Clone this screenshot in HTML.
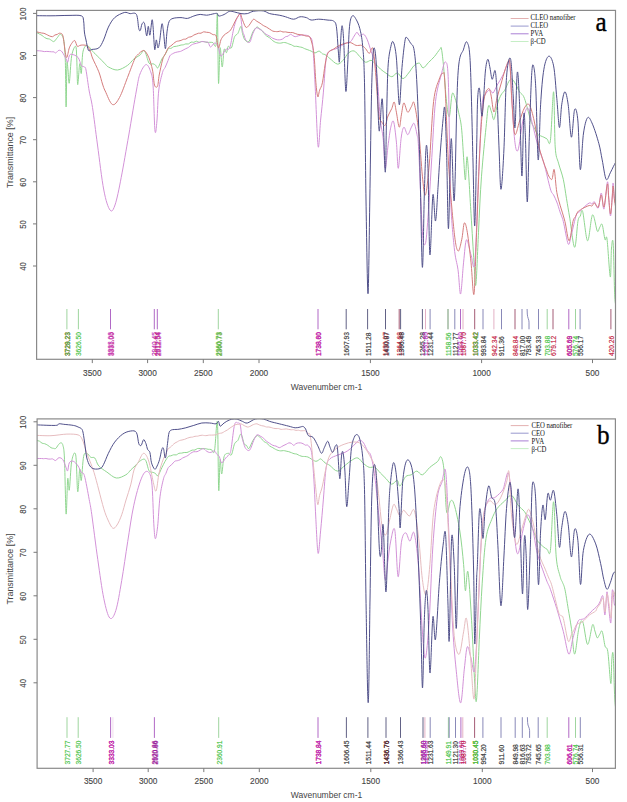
<!DOCTYPE html><html><head><meta charset="utf-8"><style>
html,body{margin:0;padding:0;background:#fff;}
body{width:627px;height:802px;overflow:hidden;position:relative;}
svg{position:absolute;left:0;top:0;}
.t{font-family:"Liberation Sans",sans-serif;}
.s{font-family:"Liberation Serif",serif;}
</style></head><body>
<svg width="627" height="802" viewBox="0 0 627 802">
<clipPath id="ca"><rect x="36.6" y="10.4" width="578.9" height="348.90000000000003"/></clipPath>
<g clip-path="url(#ca)" fill="none" stroke-linejoin="round" stroke-linecap="round">
<path d="M37.0,32.7C37.4,32.9 38.7,33.6 39.5,34.1C40.4,34.6 41.2,34.9 42.1,35.5C42.9,36.0 43.8,37.0 44.6,37.5C45.4,38.0 46.2,38.4 47.0,38.7C47.8,38.9 48.6,38.7 49.4,39.0C50.1,39.3 50.9,40.1 51.7,40.5C52.5,41.0 53.2,42.0 54.1,41.5C55.0,41.0 56.2,38.9 57.3,37.7C58.4,36.5 59.4,33.9 60.5,34.3C61.6,34.7 62.9,35.6 63.7,39.9C64.5,44.2 64.9,48.8 65.3,60.0C65.7,71.2 65.8,106.4 66.1,107.0C66.4,107.6 66.6,70.0 66.9,63.8C67.2,57.6 67.6,66.8 68.0,70.0C68.4,73.2 68.7,85.4 69.3,83.0C69.9,80.6 70.6,61.9 71.7,55.8C72.8,49.7 74.9,45.6 75.7,46.3C76.5,47.0 76.5,53.6 76.8,60.0C77.1,66.4 77.2,84.0 77.7,84.6C78.2,85.2 79.1,65.7 79.7,63.8C80.3,61.9 80.8,75.2 81.3,73.4C81.8,71.6 82.0,57.4 82.8,52.7C83.6,48.1 84.9,46.5 86.0,45.5C87.1,44.5 88.1,46.0 89.2,47.0C90.3,48.0 90.9,49.5 92.5,51.2C94.1,53.0 96.7,55.3 98.8,57.4C100.9,59.5 103.4,62.1 105.0,63.8C106.6,65.3 106.3,66.0 108.4,67.0C110.5,68.0 114.3,70.3 117.5,70.0C120.7,69.7 124.8,67.2 127.5,65.4C130.2,63.6 131.8,60.7 133.9,59.0C136.0,57.3 138.2,56.4 140.0,55.0C141.8,53.6 142.9,49.4 144.4,50.7C145.9,52.0 147.6,60.8 149.0,63.0C150.4,65.2 152.0,63.4 153.1,63.8C154.2,64.2 154.7,64.5 155.5,65.1C156.3,65.8 156.8,68.8 157.9,67.8C159.0,66.8 160.7,61.2 161.9,59.0C163.1,56.8 164.0,56.2 165.1,54.5C166.2,52.8 167.3,49.7 168.3,48.7C169.3,47.7 170.1,48.7 171.0,48.4C171.9,48.0 172.7,47.0 173.6,46.7C174.5,46.3 175.5,46.5 176.3,46.3C177.1,46.1 177.9,45.9 178.7,45.7C179.5,45.5 180.3,45.2 181.1,45.0C181.8,44.9 182.6,45.0 183.4,44.8C184.2,44.6 185.0,44.0 185.8,43.9C186.6,43.8 187.6,44.2 188.5,43.9C189.4,43.6 190.2,42.4 191.1,42.1C192.0,41.8 192.9,42.5 193.8,42.3C194.7,42.1 195.6,41.2 196.5,41.2C197.4,41.2 198.2,42.3 199.1,42.4C200.0,42.4 200.9,41.6 201.8,41.5C202.7,41.4 203.6,41.5 204.4,41.6C205.3,41.8 206.2,42.4 207.1,42.5C207.9,42.6 208.7,42.3 209.7,42.3C210.7,42.3 211.8,42.2 212.9,42.6C214.0,43.0 215.3,49.4 216.1,44.7C216.8,40.0 217.0,8.0 217.4,14.4C217.8,20.8 218.1,77.4 218.5,83.0C218.9,88.6 219.5,50.6 220.1,47.9C220.7,45.2 221.5,66.7 222.2,67.0C222.9,67.3 223.4,51.9 224.1,49.5C224.8,47.1 225.8,53.2 226.5,52.7C227.2,52.2 227.4,47.1 228.2,46.3C229.0,45.5 230.3,49.5 231.4,47.9C232.5,46.3 233.5,39.1 234.6,36.7C235.7,34.3 236.7,35.2 237.8,33.5C238.9,31.8 240.2,26.3 241.0,26.3C241.8,26.3 241.8,31.2 242.5,33.5C243.2,35.8 243.8,38.6 244.9,39.9C246.0,41.2 247.6,42.8 248.9,41.5C250.2,40.2 251.6,34.3 252.9,31.9C254.2,29.5 255.8,27.6 256.9,27.1C258.0,26.6 258.5,28.1 259.3,28.6C260.1,29.1 260.9,29.5 261.7,30.3C262.5,31.1 263.3,32.6 264.1,33.5C264.9,34.4 265.6,35.2 266.5,35.9C267.4,36.6 268.6,37.0 269.6,37.8C270.7,38.6 271.8,40.0 272.8,40.7C273.8,41.4 274.6,41.9 275.5,42.3C276.4,42.7 277.2,42.9 278.1,43.0C279.0,43.2 279.9,43.2 280.8,43.1C281.7,43.0 282.6,42.6 283.5,42.5C284.4,42.5 285.2,42.5 286.1,42.8C287.0,43.0 287.9,43.6 288.8,43.9C289.7,44.2 290.6,44.4 291.5,44.8C292.4,45.2 293.2,46.0 294.1,46.3C295.0,46.5 295.9,46.2 296.8,46.3C297.7,46.4 298.6,46.7 299.4,46.9C300.3,47.1 301.2,47.1 302.1,47.4C302.9,47.7 303.7,48.3 304.7,48.7C305.7,49.1 306.8,49.4 307.9,49.8C309.0,50.2 309.9,50.6 311.1,51.1C312.3,51.6 313.7,52.9 315.0,52.9C316.3,52.9 317.9,51.0 319.1,51.1C320.3,51.2 321.4,53.2 322.4,53.8C323.4,54.4 324.1,54.1 324.9,54.5C325.7,55.0 326.6,55.8 327.4,56.4C328.2,57.1 328.2,57.2 329.9,58.5C331.6,59.8 335.2,63.8 337.4,64.1C339.6,64.4 341.1,62.2 343.0,60.3C344.9,58.4 346.7,54.4 348.6,52.9C350.5,51.4 352.3,50.4 354.2,51.0C356.1,51.6 357.9,54.7 359.8,56.6C361.7,58.5 363.5,61.6 365.4,62.2C367.3,62.8 369.4,60.1 371.0,60.3C372.6,60.5 373.4,62.1 375.0,63.6C376.6,65.0 378.6,67.4 380.4,69.0C382.2,70.6 384.1,71.9 386.0,73.2C387.9,74.5 389.9,76.7 391.8,76.7C393.7,76.7 395.5,72.7 397.4,73.0C399.3,73.3 401.1,78.6 403.0,78.6C404.9,78.6 406.7,75.2 408.6,73.0C410.5,70.8 412.4,67.1 414.2,65.5C416.0,63.9 417.9,62.8 419.4,63.2C420.9,63.6 421.6,68.1 423.1,67.9C424.7,67.8 426.8,64.2 428.7,62.3C430.6,60.4 432.4,58.9 434.3,56.7C436.2,54.5 438.7,50.5 439.9,49.2C441.1,47.9 440.9,45.9 441.5,49.0C442.1,52.1 442.9,59.1 443.7,67.9C444.5,76.7 445.6,93.5 446.5,101.6C447.4,109.7 448.4,117.8 449.3,116.6C450.2,115.3 451.2,97.2 452.1,94.1C453.0,91.0 453.8,94.7 454.9,97.8C456.0,100.9 457.6,107.8 458.7,112.8C459.8,117.8 460.7,120.3 461.5,127.8C462.3,135.2 463.0,148.8 463.6,157.5C464.2,166.2 464.8,180.0 465.4,180.0C466.0,180.0 466.4,151.9 467.3,157.5C468.2,163.1 469.9,196.2 471.0,213.6C472.1,231.0 473.2,250.4 474.0,262.2C474.8,274.0 475.1,289.6 475.9,284.6C476.6,279.6 477.6,250.4 478.5,232.3C479.4,214.2 480.2,193.6 481.5,176.2C482.8,158.8 484.8,139.3 486.0,127.6C487.2,115.9 487.6,108.6 488.5,106.0C489.4,103.4 490.6,109.8 491.5,112.0C492.4,114.2 493.0,120.8 494.0,119.5C495.0,118.2 496.3,108.1 497.5,104.0C498.7,99.9 499.8,97.3 501.0,95.0C502.2,92.7 502.9,92.9 504.7,90.2C506.4,87.5 509.0,78.7 511.5,79.0C514.0,79.3 517.5,88.6 519.6,91.8C521.8,95.0 522.5,93.4 524.4,98.3C526.3,103.2 529.3,116.1 530.9,121.0C532.5,125.9 533.1,125.3 534.1,127.5C535.2,129.6 536.3,132.6 537.4,134.0C538.5,135.4 539.6,135.3 540.6,135.8C541.7,136.4 542.8,136.7 543.9,137.2C545.0,137.7 546.1,138.5 547.1,139.0C548.2,139.6 549.3,148.3 550.4,140.4C551.5,132.5 552.8,90.7 553.6,91.8C554.4,92.9 554.4,135.0 555.2,146.9C556.0,158.8 557.1,157.7 558.5,163.1C559.9,168.5 562.0,173.4 563.3,179.3C564.6,185.2 565.4,192.2 566.5,198.7C567.6,205.2 568.4,210.1 569.8,218.2C571.1,226.3 573.2,246.8 574.6,247.3C576.0,247.8 577.0,226.6 577.9,221.4C578.8,216.2 579.5,217.7 580.3,216.0C581.1,214.4 581.5,207.6 582.7,211.7C583.9,215.8 586.0,240.3 587.6,240.8C589.2,241.3 590.9,216.5 592.5,214.9C594.1,213.3 596.1,229.1 597.3,231.1C598.5,233.1 598.9,228.2 599.8,227.2C600.6,226.1 601.3,222.5 602.2,224.6C603.1,226.7 604.2,237.2 605.0,239.6C605.8,242.0 606.1,232.8 607.0,239.0C607.9,245.2 609.5,275.5 610.3,277.0C611.0,278.5 611.0,253.5 611.5,248.0C612.0,242.5 612.7,235.8 613.2,244.0C613.8,252.2 614.2,286.8 614.8,297.0C615.3,307.2 616.2,303.7 616.5,305.0" stroke="#90d690" stroke-width="1.0"/>
<path d="M37.0,50.7C37.4,50.7 38.6,50.8 39.4,50.8C40.3,50.9 41.1,51.0 41.9,51.1C42.7,51.2 43.5,51.5 44.3,51.6C45.1,51.6 46.0,51.4 46.8,51.4C47.6,51.4 48.4,51.5 49.2,51.6C50.0,51.6 50.8,51.7 51.7,51.8C52.5,51.9 53.4,51.7 54.1,51.9C54.8,52.1 54.9,53.3 55.7,53.0C56.5,52.7 57.8,50.5 58.9,50.3C60.0,50.1 60.9,50.4 62.1,51.9C63.3,53.4 65.2,57.3 66.1,59.0C67.0,60.7 67.2,62.7 67.7,62.2C68.2,61.7 68.6,57.1 69.3,55.8C70.0,54.5 70.2,54.0 71.7,54.3C73.2,54.6 76.4,55.5 78.0,57.4C79.6,59.2 80.2,63.8 81.3,65.4C82.4,67.0 83.6,66.2 84.4,67.0C85.2,67.8 85.2,66.0 86.0,70.0C86.8,74.0 88.1,84.8 89.2,91.0C90.3,97.2 91.1,98.5 92.5,107.5C93.9,116.5 95.6,131.2 97.5,145.0C99.4,158.8 101.7,179.2 103.8,190.0C105.8,200.8 108.1,207.5 110.0,210.0C111.9,212.5 113.1,210.4 115.0,205.0C116.9,199.6 119.0,189.2 121.2,177.5C123.5,165.8 126.2,149.6 128.8,135.0C131.3,120.4 134.6,100.2 136.5,90.0C138.4,79.8 138.4,78.2 140.0,74.0C141.6,69.8 144.2,65.0 146.0,64.6C147.8,64.2 149.5,68.2 150.7,71.8C151.9,75.4 152.4,76.1 153.1,86.0C153.8,95.9 154.3,125.3 155.0,131.0C155.7,136.7 156.4,126.8 157.0,120.0C157.6,113.2 157.8,97.9 158.8,90.0C159.7,82.1 161.5,76.2 162.5,72.5C163.5,68.8 164.1,69.4 165.0,67.7C165.8,65.9 166.6,64.1 167.4,62.1C168.3,60.1 169.1,57.2 169.9,55.8C170.8,54.4 171.7,54.3 172.5,53.8C173.4,53.2 174.3,52.9 175.2,52.5C176.0,52.2 176.9,52.1 177.8,51.9C178.7,51.7 179.6,51.7 180.5,51.4C181.4,51.1 182.2,50.6 183.1,50.1C184.0,49.7 184.9,49.2 185.8,48.7C186.7,48.2 187.6,48.0 188.5,47.4C189.4,46.8 190.2,45.8 191.1,45.2C192.0,44.6 192.9,44.2 193.8,43.9C194.7,43.6 195.6,43.5 196.5,43.3C197.4,43.0 198.2,42.8 199.1,42.5C200.0,42.2 200.8,41.6 201.8,41.5C202.8,41.4 203.9,41.9 204.9,42.0C206.0,42.2 207.2,41.5 208.1,42.3C209.0,43.1 209.4,46.9 210.5,47.0C211.6,47.1 213.3,43.4 214.5,43.1C215.7,42.9 216.8,43.6 217.7,45.5C218.6,47.4 219.4,52.6 220.1,54.3C220.8,56.0 220.8,56.6 221.7,55.8C222.6,55.0 224.4,50.8 225.7,49.5C227.0,48.2 228.5,50.8 229.7,47.9C230.9,45.0 232.1,36.1 233.0,31.9C233.9,27.6 234.6,24.9 235.4,22.4C236.2,19.9 237.0,18.1 237.8,16.8C238.6,15.5 239.4,12.2 240.2,14.4C241.0,16.6 241.8,26.9 242.5,30.3C243.2,33.8 243.6,33.5 244.1,35.1C244.6,36.7 244.8,38.7 245.7,39.9C246.6,41.1 248.5,43.4 249.7,42.3C250.9,41.2 251.8,35.9 252.9,33.5C254.0,31.1 254.9,28.6 256.1,27.9C257.3,27.2 259.0,29.0 260.1,29.5C261.2,30.0 261.7,30.3 262.5,31.0C263.3,31.6 264.1,32.8 264.9,33.5C265.7,34.2 266.7,34.5 267.5,35.0C268.4,35.5 269.3,36.0 270.2,36.5C271.0,37.1 271.8,37.8 272.8,38.3C273.8,38.8 274.9,39.2 276.0,39.5C277.1,39.7 278.1,40.0 279.2,39.9C280.3,39.8 281.3,39.6 282.4,39.1C283.5,38.6 284.7,37.2 285.6,36.7C286.5,36.2 287.2,36.6 288.0,36.2C288.8,35.8 289.6,34.4 290.4,34.3C291.2,34.2 292.0,35.2 292.8,35.6C293.6,36.0 294.3,36.7 295.2,36.7C296.1,36.7 297.3,36.1 298.4,35.8C299.5,35.5 300.5,35.2 301.6,35.1C302.7,35.0 303.7,35.0 304.8,35.1C305.8,35.3 306.7,35.1 307.9,35.9C309.1,36.7 311.0,36.6 311.9,39.9C312.8,43.2 313.0,48.3 313.5,55.8C314.0,63.3 314.3,69.9 315.1,85.0C315.9,100.1 317.2,140.5 318.1,146.3C319.0,152.2 319.7,129.1 320.6,120.1C321.5,111.1 322.5,102.4 323.4,92.1C324.3,81.8 325.1,65.3 326.2,58.5C327.3,51.6 328.0,52.7 329.9,51.0C331.8,49.3 334.9,49.5 337.4,48.2C339.9,47.0 342.7,44.6 344.9,43.5C347.1,42.4 348.9,42.9 350.5,41.6C352.1,40.4 353.1,37.5 354.2,36.0C355.3,34.5 356.1,32.3 357.0,32.3C357.9,32.3 358.7,35.7 359.8,36.0C360.9,36.3 362.4,33.6 363.6,34.2C364.9,34.8 366.1,37.0 367.3,39.8C368.5,42.6 369.8,47.3 371.0,51.0C372.2,54.7 373.7,56.9 374.8,62.2C375.9,67.5 376.7,73.2 377.6,82.8C378.5,92.4 379.5,110.7 380.4,120.0C381.3,129.3 382.4,130.8 383.2,138.8C384.0,146.9 384.4,167.1 385.2,168.3C386.0,169.5 387.1,152.8 388.0,145.9C388.9,139.1 389.9,131.2 390.8,127.2C391.7,123.2 392.7,119.1 393.6,121.6C394.5,124.1 395.6,134.3 396.4,142.1C397.2,149.9 397.5,168.9 398.3,168.3C399.1,167.7 400.2,145.2 401.1,138.4C402.0,131.6 402.8,127.8 403.9,127.2C405.0,126.6 406.4,134.7 407.7,134.7C408.9,134.7 410.3,129.1 411.4,127.2C412.5,125.3 413.3,122.2 414.2,123.5C415.1,124.8 416.2,130.3 417.0,134.7C417.8,139.1 417.8,133.8 418.7,150.0C419.6,166.2 421.3,216.4 422.4,232.0C423.5,247.6 424.5,245.9 425.4,243.5C426.3,241.1 426.9,231.6 428.0,217.3C429.1,203.0 430.6,176.8 431.8,157.5C433.1,138.2 433.9,115.2 435.5,101.5C437.1,87.8 439.4,81.9 441.1,75.3C442.8,68.7 444.3,60.7 445.5,62.0C446.7,63.3 447.6,60.7 448.4,82.9C449.2,105.1 449.5,167.6 450.5,195.0C451.5,222.4 452.9,234.9 454.2,247.3C455.4,259.8 456.9,261.9 458.0,269.7C459.1,277.5 459.7,295.2 460.6,294.0C461.5,292.8 462.6,271.2 463.6,262.2C464.6,253.2 465.3,241.1 466.5,239.8C467.7,238.6 469.6,251.0 471.0,254.7C472.4,258.4 473.6,275.3 474.8,262.2C476.1,249.1 477.3,202.4 478.5,176.2C479.7,150.0 481.1,118.5 482.2,105.0C483.3,91.5 483.8,97.5 485.0,95.0C486.2,92.5 488.4,90.2 489.7,89.9C491.0,89.6 491.8,93.8 493.0,93.0C494.2,92.2 495.5,88.0 497.2,85.0C498.9,82.0 501.1,78.8 503.0,75.0C504.9,71.2 507.2,63.5 508.4,62.0C509.6,60.5 509.4,60.0 510.0,66.0C510.6,72.0 511.0,85.9 511.8,98.3C512.6,110.7 513.7,131.8 514.7,140.4C515.7,149.0 516.6,153.3 518.0,150.1C519.4,146.9 521.2,128.0 522.8,121.0C524.4,114.0 526.1,107.5 527.7,108.0C529.3,108.5 530.9,118.2 532.5,124.2C534.1,130.2 535.5,137.2 537.4,143.7C539.3,150.2 541.7,155.5 543.9,163.1C546.1,170.7 548.8,183.7 550.4,189.0C552.0,194.3 552.5,192.9 553.6,195.0C554.7,197.2 555.7,199.2 556.8,202.0C557.9,204.8 559.0,208.7 560.0,211.9C561.1,215.2 561.9,216.1 563.3,221.4C564.7,226.7 566.9,241.8 568.2,244.0C569.6,246.2 570.0,239.2 571.4,234.4C572.8,229.6 574.9,218.8 576.3,215.0C577.6,211.2 578.4,213.0 579.5,211.9C580.6,210.8 581.1,209.9 582.7,208.4C584.3,206.9 587.7,203.7 589.2,203.0C590.8,202.3 591.1,204.2 592.0,204.0C592.9,203.8 593.4,201.1 594.4,201.8C595.4,202.5 597.1,209.5 598.3,208.0C599.4,206.5 600.3,192.8 601.3,193.0C602.2,193.2 603.0,210.8 604.0,209.0C605.0,207.2 606.6,184.0 607.4,182.0C608.2,180.0 608.2,191.3 608.7,197.0C609.2,202.7 609.9,216.0 610.5,216.0C611.1,216.0 611.8,202.5 612.2,197.0C612.6,191.5 612.7,182.5 613.1,183.0C613.5,183.5 613.9,196.3 614.5,200.0C615.1,203.7 616.2,204.2 616.5,205.0" stroke="#d392d8" stroke-width="1.0"/>
<path d="M37.0,31.9C37.4,32.0 38.5,32.3 39.3,32.5C40.1,32.6 40.8,32.8 41.6,33.0C42.4,33.1 43.1,33.1 43.9,33.3C44.7,33.6 45.3,33.9 46.2,34.3C47.1,34.7 48.3,35.5 49.4,35.9C50.4,36.3 51.6,36.8 52.5,36.7C53.4,36.6 54.1,35.4 54.9,35.0C55.7,34.7 56.5,34.7 57.3,34.4C58.1,34.1 58.8,32.9 59.7,33.2C60.6,33.5 62.0,32.6 62.9,35.9C63.8,39.1 64.6,49.1 65.3,52.7C66.0,56.3 66.2,58.2 66.9,57.4C67.6,56.6 68.4,50.4 69.3,47.9C70.2,45.4 71.6,43.5 72.5,42.3C73.4,41.1 74.1,40.0 74.9,40.7C75.7,41.4 76.5,45.5 77.3,46.3C78.1,47.1 78.8,45.7 79.7,45.5C80.6,45.3 81.5,44.9 82.8,45.0C84.1,45.1 86.3,45.0 87.6,46.3C88.9,47.6 90.0,50.8 90.8,52.7C91.6,54.7 91.2,54.8 92.5,58.0C93.8,61.2 97.1,67.5 98.8,71.8C100.5,76.1 101.4,80.8 102.5,84.0C103.6,87.2 103.5,87.6 105.2,91.0C106.9,94.4 110.0,103.4 112.4,104.5C114.8,105.6 117.0,102.0 119.5,97.5C122.0,93.0 125.0,83.9 127.5,77.5C130.0,71.1 133.0,62.8 134.7,59.0C136.4,55.2 136.0,56.4 137.5,55.0C139.0,53.6 141.9,50.1 143.8,50.5C145.6,50.9 147.3,54.2 148.8,57.5C150.2,60.8 151.5,65.4 152.5,70.0C153.5,74.6 153.7,82.3 154.5,85.0C155.3,87.7 156.7,87.9 157.5,86.2C158.3,84.6 158.4,79.4 159.2,75.0C160.1,70.6 161.5,63.6 162.5,60.0C163.5,56.4 164.4,55.7 165.4,53.7C166.4,51.7 167.4,49.2 168.3,47.9C169.2,46.6 170.1,46.5 171.0,45.8C171.9,45.1 172.7,44.2 173.6,43.5C174.5,42.8 175.5,41.9 176.3,41.5C177.1,41.1 177.9,41.2 178.7,41.0C179.5,40.8 180.3,40.7 181.1,40.4C181.8,40.1 182.6,39.5 183.4,39.3C184.2,39.0 185.0,39.4 185.8,39.1C186.6,38.8 187.6,37.7 188.5,37.3C189.4,36.9 190.2,37.1 191.1,36.8C192.0,36.4 193.0,35.6 193.8,35.1C194.6,34.6 195.4,34.4 196.2,34.1C197.0,33.7 197.8,33.4 198.6,33.2C199.4,33.1 200.2,33.4 201.0,33.2C201.8,33.0 202.5,32.1 203.4,31.9C204.3,31.7 205.5,32.1 206.6,32.3C207.6,32.4 208.6,32.3 209.7,32.7C210.8,33.1 211.8,34.1 212.9,34.6C214.0,35.2 215.2,33.7 216.1,35.9C217.0,38.1 217.7,47.2 218.5,47.9C219.3,48.6 220.0,42.0 220.9,39.9C221.8,37.8 223.1,36.2 224.1,35.1C225.1,34.0 226.0,33.7 226.9,33.1C227.8,32.4 228.9,31.8 229.7,31.1C230.4,30.4 230.7,29.9 231.4,28.7C232.1,27.5 233.0,25.7 233.8,24.1C234.6,22.5 235.1,20.9 236.2,19.2C237.3,17.5 239.3,13.9 240.2,13.6C241.1,13.3 240.8,15.4 241.7,17.6C242.6,19.9 244.5,25.8 245.7,27.1C246.9,28.4 248.0,26.3 248.9,25.5C249.8,24.7 250.5,23.1 251.3,22.0C252.1,21.0 252.8,19.3 253.7,19.2C254.6,19.1 255.8,20.7 256.9,21.3C258.0,22.0 259.0,22.5 260.1,23.2C261.2,23.9 262.2,24.9 263.3,25.5C264.4,26.2 265.4,26.5 266.5,27.1C267.6,27.7 268.6,28.5 269.6,29.1C270.7,29.8 271.8,30.7 272.8,31.1C273.8,31.5 274.5,31.4 275.4,31.5C276.2,31.6 277.1,31.7 277.9,31.6C278.8,31.5 279.6,31.1 280.5,31.1C281.3,31.2 282.2,31.9 283.0,32.0C283.9,32.1 284.8,31.8 285.6,31.9C286.4,32.0 287.2,32.3 288.0,32.4C288.8,32.5 289.6,32.5 290.4,32.5C291.2,32.5 292.0,32.5 292.8,32.6C293.6,32.8 294.4,33.2 295.2,33.5C296.0,33.8 297.0,34.2 297.8,34.4C298.7,34.6 299.6,34.4 300.5,34.5C301.3,34.7 302.1,34.8 303.1,35.1C304.1,35.4 305.2,35.9 306.3,36.1C307.4,36.4 308.6,35.5 309.5,36.7C310.4,37.9 311.1,40.1 311.9,43.1C312.6,46.1 313.3,48.1 314.0,54.7C314.7,61.3 315.3,75.8 315.9,82.8C316.5,89.8 317.2,95.6 317.8,96.8C318.4,98.0 318.8,92.5 319.6,90.2C320.4,87.9 321.5,87.2 322.4,82.8C323.3,78.4 324.3,69.1 325.2,64.1C326.1,59.1 326.6,55.4 328.0,52.9C329.4,50.4 331.7,50.4 333.6,49.1C335.5,47.9 337.4,46.3 339.3,45.4C341.2,44.5 343.0,44.0 344.9,43.5C346.8,43.0 348.6,42.3 350.5,42.6C352.4,42.9 354.2,44.9 356.1,45.4C358.0,45.9 360.1,44.8 361.7,45.4C363.3,46.0 364.3,47.4 365.6,48.7C366.9,50.0 368.1,53.4 369.3,53.4C370.5,53.4 371.9,44.8 373.0,48.7C374.1,52.6 374.9,65.8 375.9,76.7C376.8,87.6 377.8,106.5 378.7,114.0C379.6,121.5 380.4,119.7 381.5,121.6C382.6,123.5 384.1,126.2 385.2,125.3C386.3,124.4 386.9,118.8 388.0,116.0C389.1,113.2 390.8,110.8 391.8,108.5C392.8,106.2 393.4,101.4 394.2,102.0C395.0,102.6 395.5,108.0 396.4,112.2C397.2,116.4 398.4,126.9 399.3,127.2C400.2,127.5 400.7,118.1 401.5,114.1C402.3,110.0 402.9,103.2 403.9,102.9C404.9,102.6 406.4,111.6 407.7,112.2C408.9,112.8 410.3,108.1 411.4,106.6C412.5,105.1 413.0,99.2 414.2,103.3C415.4,107.4 417.3,119.2 418.7,131.4C420.1,143.6 421.3,165.6 422.4,176.2C423.5,186.8 424.3,196.9 425.4,195.0C426.5,193.1 427.8,180.6 429.2,165.0C430.6,149.4 431.9,115.8 433.6,101.5C435.3,87.2 437.7,83.7 439.3,79.0C440.9,74.3 442.1,72.8 443.0,73.4C443.9,74.0 444.0,67.5 444.9,82.8C445.8,98.1 447.1,140.1 448.6,165.0C450.2,189.9 452.6,218.0 454.2,232.3C455.8,246.6 456.8,249.8 458.0,251.0C459.2,252.2 460.6,244.5 461.7,239.8C462.8,235.1 463.4,224.2 464.3,223.0C465.2,221.8 466.2,225.8 467.3,232.3C468.4,238.8 469.9,251.9 471.0,262.2C472.1,272.5 473.1,299.0 474.0,294.0C474.9,289.0 475.5,258.2 476.6,232.3C477.7,206.4 479.1,161.0 480.4,138.8C481.6,116.6 482.8,107.4 484.1,99.0C485.5,90.6 487.4,89.3 488.5,88.6C489.6,87.9 490.1,91.1 491.0,95.0C491.9,98.9 492.9,111.5 493.9,112.0C494.9,112.5 495.8,102.7 497.0,98.0C498.2,93.3 499.7,88.7 501.0,84.0C502.3,79.3 503.8,73.8 505.0,70.0C506.2,66.2 507.7,62.0 508.5,61.0C509.3,60.0 509.4,57.5 510.0,64.0C510.6,70.5 511.0,88.3 511.8,100.0C512.6,111.7 513.4,130.5 514.7,134.0C516.0,137.5 518.0,125.3 519.6,121.0C521.2,116.7 522.8,110.7 524.4,108.0C526.0,105.3 527.7,102.6 529.3,104.8C530.9,107.0 532.6,114.0 534.2,121.0C535.8,128.0 537.4,139.9 539.0,146.9C540.6,153.9 542.7,159.4 543.9,163.1C545.1,166.8 545.5,167.2 546.3,169.4C547.1,171.5 547.8,174.3 548.7,176.0C549.7,177.7 551.1,180.4 552.0,179.3C552.9,178.2 553.4,167.4 554.2,169.6C555.0,171.8 555.8,186.4 556.8,192.3C557.8,198.2 558.8,200.3 560.1,205.2C561.5,210.0 563.4,215.5 564.9,221.4C566.4,227.3 567.8,240.8 569.1,240.8C570.5,240.8 571.9,225.4 573.0,221.4C574.1,217.4 574.6,218.1 575.5,216.5C576.3,214.9 577.1,212.8 577.9,211.7C578.7,210.6 579.5,210.5 580.3,210.0C581.1,209.4 581.2,209.1 582.7,208.4C584.2,207.7 587.7,205.9 589.2,205.5C590.8,205.1 591.1,206.4 592.0,206.0C592.9,205.6 593.4,202.8 594.4,203.0C595.4,203.2 597.1,208.3 598.3,207.0C599.4,205.7 600.3,195.0 601.3,195.0C602.2,195.0 603.0,208.8 604.0,207.0C605.0,205.2 606.6,185.5 607.4,184.0C608.2,182.5 608.2,193.0 608.7,198.0C609.2,203.0 609.9,214.0 610.5,214.0C611.1,214.0 611.8,202.7 612.2,198.0C612.6,193.3 612.7,185.7 613.1,186.0C613.5,186.3 613.9,195.7 614.5,200.0C615.1,204.3 616.2,210.0 616.5,212.0" stroke="#d47c7c" stroke-width="1.0"/>
<path d="M37.0,15.7C39.2,15.7 46.2,15.8 50.0,15.8C53.8,15.8 56.7,15.7 60.0,15.6C63.3,15.5 66.5,15.4 70.0,15.4C73.5,15.4 79.0,14.9 81.3,15.8C83.6,16.7 83.1,18.1 83.6,20.8C84.1,23.5 84.0,28.8 84.4,32.0C84.8,35.2 85.3,37.0 86.0,40.0C86.7,43.0 87.5,48.7 88.4,50.3C89.3,51.9 89.9,49.9 91.6,49.5C93.3,49.1 96.8,49.5 98.8,47.9C100.8,46.3 102.0,43.4 103.6,39.9C105.2,36.4 106.6,30.8 108.4,27.1C110.2,23.4 112.1,20.0 114.7,17.6C117.3,15.2 121.8,13.2 124.3,12.5C126.8,11.8 128.0,13.3 130.0,13.6C132.0,13.9 134.9,11.9 136.4,14.4C137.9,16.9 138.1,26.1 138.8,28.7C139.5,31.3 139.9,31.1 140.4,30.3C140.9,29.5 141.3,25.2 142.0,24.0C142.7,22.8 143.6,21.2 144.4,23.2C145.2,25.2 146.0,35.4 146.7,35.9C147.3,36.4 147.8,26.4 148.3,26.3C148.8,26.2 149.3,36.1 149.9,35.1C150.5,34.1 151.5,21.3 152.0,20.0C152.5,18.7 152.7,22.2 153.1,27.1C153.5,32.0 154.2,47.4 154.7,49.5C155.2,51.6 155.8,40.2 156.3,39.9C156.8,39.6 157.4,47.5 157.9,47.9C158.4,48.3 158.8,46.3 159.5,42.3C160.2,38.3 161.2,25.7 161.9,24.0C162.6,22.3 162.9,27.8 163.5,31.9C164.1,36.0 164.8,48.7 165.4,48.7C166.0,48.7 166.4,36.4 167.0,31.9C167.6,27.4 168.1,23.9 169.1,21.6C170.1,19.4 171.0,19.1 173.0,18.4C175.0,17.7 178.6,17.6 181.0,17.6C183.4,17.6 185.3,18.7 187.4,18.4C189.5,18.1 191.7,16.7 193.8,16.0C195.9,15.3 198.1,14.5 200.2,14.4C202.3,14.3 204.2,15.3 206.6,15.2C209.0,15.1 212.7,13.9 214.5,13.6C216.3,13.3 216.7,13.2 217.4,13.6C218.1,14.0 217.7,15.7 218.5,16.0C219.3,16.3 221.3,15.6 222.5,15.2C223.7,14.8 224.5,14.3 225.7,13.6C226.9,12.9 228.3,11.5 229.8,11.2C231.3,10.9 232.7,11.6 234.6,12.0C236.5,12.4 238.9,13.3 241.0,13.6C243.1,13.9 245.2,14.0 247.3,13.6C249.4,13.2 251.0,11.6 253.7,11.2C256.4,10.8 260.6,10.5 263.3,10.9C266.0,11.3 267.1,12.9 269.7,13.6C272.3,14.3 276.5,14.7 279.2,15.2C281.9,15.7 283.2,16.1 285.6,16.8C288.0,17.5 291.2,19.2 293.6,19.2C296.0,19.2 297.9,17.1 300.0,16.8C302.1,16.5 304.4,17.1 306.3,17.6C308.2,18.1 309.0,19.7 311.1,20.0C313.2,20.3 315.9,19.2 318.7,19.2C321.5,19.2 325.5,19.8 328.0,20.1C330.5,20.4 332.2,20.0 333.6,21.1C335.0,22.2 335.6,21.7 336.4,26.7C337.2,31.7 337.8,45.1 338.3,51.0C338.8,56.9 339.0,62.5 339.3,62.2C339.6,61.9 339.8,54.7 340.2,49.1C340.6,43.5 341.1,32.2 341.5,28.6C341.9,25.0 342.2,24.8 342.6,27.6C343.0,30.4 343.4,34.8 343.9,45.4C344.4,56.0 345.2,88.1 345.8,91.2C346.4,94.3 347.1,74.8 347.7,64.1C348.3,53.3 348.7,34.7 349.5,26.7C350.3,18.7 351.2,17.1 352.3,15.9C353.4,14.7 354.8,17.1 356.0,19.2C357.2,21.3 358.7,24.2 359.8,28.6C360.9,33.0 361.8,36.4 362.6,45.4C363.4,54.4 363.9,57.0 364.5,82.8C365.1,108.6 365.4,164.8 366.0,200.0C366.6,235.2 367.4,293.7 368.0,293.7C368.6,293.7 369.3,230.6 369.8,200.0C370.3,169.4 370.8,132.7 371.2,110.0C371.6,87.3 372.0,74.4 372.5,64.0C373.0,53.6 373.4,47.8 374.0,47.8C374.6,47.8 375.5,51.1 376.3,64.0C377.1,76.9 378.1,115.0 378.7,125.3C379.3,135.6 379.4,130.0 380.0,125.8C380.6,121.6 381.5,92.3 382.4,100.0C383.3,107.7 384.5,168.7 385.2,172.0C385.9,175.3 386.0,137.4 386.5,120.0C387.0,102.6 387.3,79.6 388.0,67.4C388.7,55.2 389.9,51.0 390.8,46.8C391.7,42.6 392.4,40.2 393.3,42.1C394.2,44.0 395.4,47.5 396.4,58.0C397.4,68.5 398.4,103.2 399.3,104.8C400.2,106.4 401.1,78.0 402.0,67.4C402.9,56.8 404.1,46.2 404.9,41.2C405.7,36.2 405.8,37.2 406.7,37.5C407.6,37.8 409.2,40.9 410.5,43.1C411.8,45.3 413.1,43.5 414.2,50.6C415.3,57.8 416.1,67.6 417.0,86.0C417.9,104.4 418.9,130.6 419.8,160.8C420.7,191.0 421.6,261.3 422.3,267.0C423.1,272.7 423.7,215.1 424.3,195.0C424.9,174.9 425.6,150.7 426.2,146.3C426.8,141.9 427.4,150.6 428.0,168.7C428.6,186.8 429.1,250.3 429.9,254.7C430.7,259.1 432.0,200.6 432.9,195.0C433.8,189.4 434.6,222.3 435.5,221.0C436.4,219.7 437.3,198.0 438.0,187.4C438.7,176.8 439.1,168.7 439.9,157.5C440.7,146.3 442.2,128.1 443.0,120.0C443.8,111.9 444.3,102.8 444.9,109.0C445.5,115.2 446.1,137.6 446.7,157.5C447.3,177.4 447.8,231.7 448.5,228.6C449.2,225.5 450.2,143.6 451.2,138.8C452.2,134.0 453.2,210.6 454.3,200.0C455.4,189.4 456.3,100.5 457.9,75.3C459.4,50.1 462.1,54.6 463.6,49.1C465.2,43.6 466.1,40.0 467.2,42.5C468.3,45.0 469.4,44.8 470.3,64.0C471.2,83.2 472.2,130.5 472.9,157.5C473.6,184.5 474.1,227.2 474.7,226.0C475.3,224.8 476.1,171.0 476.6,150.0C477.1,129.0 477.1,110.2 477.6,100.0C478.1,89.8 478.8,85.9 479.5,88.6C480.2,91.3 481.1,114.1 481.8,116.0C482.5,117.9 482.9,107.5 483.5,100.0C484.1,92.5 484.7,77.8 485.4,71.0C486.1,64.2 487.0,59.8 487.8,59.3C488.6,58.8 489.3,64.7 490.0,68.0C490.7,71.3 491.4,78.9 492.2,79.3C493.0,79.7 494.3,69.5 495.0,70.5C495.7,71.5 496.1,77.6 496.6,85.0C497.1,92.4 497.4,103.1 497.8,114.8C498.2,126.5 498.8,142.6 499.3,155.0C499.8,167.4 500.2,190.1 501.0,189.3C501.8,188.5 503.0,168.7 503.9,150.0C504.8,131.3 505.4,92.6 506.5,77.4C507.6,62.2 509.4,55.6 510.5,58.7C511.6,61.8 512.5,84.5 513.2,96.0C514.0,107.5 514.3,131.4 515.0,127.5C515.7,123.6 516.5,76.2 517.3,72.4C518.1,68.6 518.8,87.5 519.6,104.8C520.4,122.1 521.2,174.4 521.9,176.0C522.6,177.6 523.2,121.0 523.8,114.5C524.4,108.0 524.8,122.6 525.4,137.2C526.0,151.8 526.6,202.0 527.3,202.0C527.9,202.0 528.6,158.3 529.3,137.2C530.0,116.1 530.9,87.5 531.6,75.6C532.3,63.7 532.8,63.7 533.5,65.9C534.2,68.1 535.0,72.9 535.8,88.6C536.6,104.3 537.4,157.2 538.2,159.9C539.0,162.6 539.7,119.9 540.6,104.8C541.5,89.7 542.5,77.3 543.9,69.2C545.2,61.1 547.1,56.8 548.7,56.2C550.3,55.7 552.2,58.9 553.6,65.9C555.0,72.9 555.8,88.0 556.8,98.3C557.8,108.6 558.6,126.4 559.4,127.5C560.2,128.6 560.8,110.8 561.7,104.8C562.6,98.8 563.8,91.8 564.9,91.8C566.0,91.8 567.1,97.2 568.2,104.8C569.3,112.4 570.3,136.4 571.4,137.2C572.5,138.0 573.5,112.3 574.6,109.6C575.7,106.9 577.0,111.0 577.9,121.0C578.8,131.0 579.4,167.4 580.3,169.6C581.2,171.8 582.2,142.7 583.4,134.0C584.6,125.3 586.1,119.3 587.6,117.7C589.1,116.1 590.6,119.9 592.5,124.2C594.4,128.5 597.3,137.8 598.9,143.7C600.5,149.6 601.0,154.0 602.2,159.9C603.4,165.8 604.8,177.2 606.1,179.3C607.5,181.5 609.1,175.0 610.3,172.8C611.5,170.6 612.4,168.5 613.5,166.3C614.6,164.2 616.4,161.0 617.0,159.9" stroke="#50508a" stroke-width="1.0"/>
</g>
<rect x="36.6" y="10.4" width="578.9" height="348.9" fill="none" stroke="#8a8a8a" stroke-width="1.2"/>
<line x1="33.0" y1="13.4" x2="36.6" y2="13.4" stroke="#7a7a7a" stroke-width="1"/>
<text class="t" x="0" y="0" font-size="8.7" fill="#444" stroke="#444" stroke-width="0.12" text-anchor="middle" transform="translate(26.0,13.9) rotate(-90) scale(0.9,1)">100</text>
<line x1="33.0" y1="55.5" x2="36.6" y2="55.5" stroke="#7a7a7a" stroke-width="1"/>
<text class="t" x="0" y="0" font-size="8.7" fill="#444" stroke="#444" stroke-width="0.12" text-anchor="middle" transform="translate(26.0,56.0) rotate(-90) scale(0.9,1)">90</text>
<line x1="33.0" y1="97.6" x2="36.6" y2="97.6" stroke="#7a7a7a" stroke-width="1"/>
<text class="t" x="0" y="0" font-size="8.7" fill="#444" stroke="#444" stroke-width="0.12" text-anchor="middle" transform="translate(26.0,98.1) rotate(-90) scale(0.9,1)">80</text>
<line x1="33.0" y1="139.7" x2="36.6" y2="139.7" stroke="#7a7a7a" stroke-width="1"/>
<text class="t" x="0" y="0" font-size="8.7" fill="#444" stroke="#444" stroke-width="0.12" text-anchor="middle" transform="translate(26.0,140.2) rotate(-90) scale(0.9,1)">70</text>
<line x1="33.0" y1="181.8" x2="36.6" y2="181.8" stroke="#7a7a7a" stroke-width="1"/>
<text class="t" x="0" y="0" font-size="8.7" fill="#444" stroke="#444" stroke-width="0.12" text-anchor="middle" transform="translate(26.0,182.3) rotate(-90) scale(0.9,1)">60</text>
<line x1="33.0" y1="223.9" x2="36.6" y2="223.9" stroke="#7a7a7a" stroke-width="1"/>
<text class="t" x="0" y="0" font-size="8.7" fill="#444" stroke="#444" stroke-width="0.12" text-anchor="middle" transform="translate(26.0,224.4) rotate(-90) scale(0.9,1)">50</text>
<line x1="33.0" y1="266.0" x2="36.6" y2="266.0" stroke="#7a7a7a" stroke-width="1"/>
<text class="t" x="0" y="0" font-size="8.7" fill="#444" stroke="#444" stroke-width="0.12" text-anchor="middle" transform="translate(26.0,266.5) rotate(-90) scale(0.9,1)">40</text>
<text class="t" font-size="8.9" fill="#444" text-anchor="middle" transform="translate(12.7,152.5) rotate(-90)">Transmittance [%]</text>
<line x1="92.3" y1="359.3" x2="92.3" y2="363.1" stroke="#7a7a7a" stroke-width="1"/>
<text class="t" font-size="9.3" fill="#444" stroke="#444" stroke-width="0.12" text-anchor="middle" transform="translate(92.3,376.0) scale(0.89,1)">3500</text>
<line x1="147.6" y1="359.3" x2="147.6" y2="363.1" stroke="#7a7a7a" stroke-width="1"/>
<text class="t" font-size="9.3" fill="#444" stroke="#444" stroke-width="0.12" text-anchor="middle" transform="translate(147.6,376.0) scale(0.89,1)">3000</text>
<line x1="203.3" y1="359.3" x2="203.3" y2="363.1" stroke="#7a7a7a" stroke-width="1"/>
<text class="t" font-size="9.3" fill="#444" stroke="#444" stroke-width="0.12" text-anchor="middle" transform="translate(203.3,376.0) scale(0.89,1)">2500</text>
<line x1="259.0" y1="359.3" x2="259.0" y2="363.1" stroke="#7a7a7a" stroke-width="1"/>
<text class="t" font-size="9.3" fill="#444" stroke="#444" stroke-width="0.12" text-anchor="middle" transform="translate(259.0,376.0) scale(0.89,1)">2000</text>
<line x1="370.4" y1="359.3" x2="370.4" y2="363.1" stroke="#7a7a7a" stroke-width="1"/>
<text class="t" font-size="9.3" fill="#444" stroke="#444" stroke-width="0.12" text-anchor="middle" transform="translate(370.4,376.0) scale(0.89,1)">1500</text>
<line x1="481.6" y1="359.3" x2="481.6" y2="363.1" stroke="#7a7a7a" stroke-width="1"/>
<text class="t" font-size="9.3" fill="#444" stroke="#444" stroke-width="0.12" text-anchor="middle" transform="translate(481.6,376.0) scale(0.89,1)">1000</text>
<line x1="592.5" y1="359.3" x2="592.5" y2="363.1" stroke="#7a7a7a" stroke-width="1"/>
<text class="t" font-size="9.3" fill="#444" stroke="#444" stroke-width="0.12" text-anchor="middle" transform="translate(592.5,376.0) scale(0.89,1)">500</text>
<text class="t" x="326.5" y="389.5" font-size="8.5" fill="#444" text-anchor="middle">Wavenumber cm-1</text>
<line x1="66.9" y1="309.0" x2="66.9" y2="329.3" stroke="#94d094" stroke-width="0.9"/>
<text class="t" font-size="6.65" fill="#c42040" stroke="#c42040" stroke-width="0.15" transform="translate(70.1,356.1) rotate(-90)">3729.23</text>
<text class="t" font-size="6.65" fill="#3fc23f" stroke="#3fc23f" stroke-width="0.15" transform="translate(69.8,356.1) rotate(-90)">3728.23</text>
<line x1="78.4" y1="309.0" x2="78.4" y2="329.3" stroke="#94d094" stroke-width="0.9"/>
<text class="t" font-size="6.65" fill="#3fc23f" stroke="#3fc23f" stroke-width="0.15" transform="translate(81.3,356.1) rotate(-90)">3626.50</text>
<line x1="110.5" y1="309.0" x2="110.5" y2="329.3" stroke="#a858c0" stroke-width="0.9"/>
<text class="t" font-size="6.65" fill="#d0207a" stroke="#d0207a" stroke-width="0.15" transform="translate(113.7,356.1) rotate(-90)">3331.00</text>
<text class="t" font-size="6.65" fill="#c030c0" stroke="#c030c0" stroke-width="0.15" transform="translate(113.4,356.1) rotate(-90)">3333.03</text>
<line x1="154.3" y1="309.0" x2="154.3" y2="329.3" stroke="#a858c0" stroke-width="0.9"/>
<text class="t" font-size="6.65" fill="#c030c0" stroke="#c030c0" stroke-width="0.15" transform="translate(157.2,356.1) rotate(-90)">2940.45</text>
<line x1="157.3" y1="309.0" x2="157.3" y2="329.3" stroke="#a858c0" stroke-width="0.9"/>
<text class="t" font-size="6.65" fill="#c42040" stroke="#c42040" stroke-width="0.15" transform="translate(160.2,356.1) rotate(-90)">2912.54</text>
<text class="t" font-size="6.65" fill="#c030c0" stroke="#c030c0" stroke-width="0.15" transform="translate(160.5,356.1) rotate(-90)">2912.54</text>
<line x1="218.3" y1="309.0" x2="218.3" y2="329.3" stroke="#94d094" stroke-width="0.9"/>
<text class="t" font-size="6.65" fill="#8a9a30" stroke="#8a9a30" stroke-width="0.15" transform="translate(221.5,356.1) rotate(-90)">2360.73</text>
<text class="t" font-size="6.65" fill="#3fc23f" stroke="#3fc23f" stroke-width="0.15" transform="translate(221.2,356.1) rotate(-90)">2360.73</text>
<line x1="318.0" y1="309.0" x2="318.0" y2="329.3" stroke="#a858c0" stroke-width="0.9"/>
<text class="t" font-size="6.65" fill="#d0207a" stroke="#d0207a" stroke-width="0.15" transform="translate(321.2,356.1) rotate(-90)">1738.80</text>
<text class="t" font-size="6.65" fill="#c030c0" stroke="#c030c0" stroke-width="0.15" transform="translate(320.9,356.1) rotate(-90)">1738.60</text>
<line x1="346.2" y1="309.0" x2="346.2" y2="329.3" stroke="#505078" stroke-width="0.9"/>
<text class="t" font-size="6.65" fill="#333333" stroke="#333333" stroke-width="0.15" transform="translate(349.1,356.1) rotate(-90)">1607.93</text>
<line x1="367.6" y1="309.0" x2="367.6" y2="329.3" stroke="#505078" stroke-width="0.9"/>
<text class="t" font-size="6.65" fill="#333333" stroke="#333333" stroke-width="0.15" transform="translate(370.5,356.1) rotate(-90)">1511.28</text>
<line x1="385.5" y1="309.0" x2="385.5" y2="329.3" stroke="#505078" stroke-width="0.9"/>
<text class="t" font-size="6.65" fill="#c42040" stroke="#c42040" stroke-width="0.15" transform="translate(388.4,356.1) rotate(-90)">1430.07</text>
<text class="t" font-size="6.65" fill="#333333" stroke="#333333" stroke-width="0.15" transform="translate(388.7,356.1) rotate(-90)">1430.87</text>
<line x1="399.2" y1="309.0" x2="399.2" y2="329.3" stroke="#9a4a66" stroke-width="0.9"/>
<text class="t" font-size="6.65" fill="#c42040" stroke="#c42040" stroke-width="0.15" transform="translate(402.1,356.1) rotate(-90)">1364.68</text>
<line x1="400.6" y1="309.0" x2="400.6" y2="329.3" stroke="#505078" stroke-width="0.9"/>
<text class="t" font-size="6.65" fill="#333333" stroke="#333333" stroke-width="0.15" transform="translate(403.8,356.1) rotate(-90)">1366.48</text>
<line x1="422.4" y1="309.0" x2="422.4" y2="329.3" stroke="#505078" stroke-width="0.9"/>
<text class="t" font-size="6.65" fill="#333333" stroke="#333333" stroke-width="0.15" transform="translate(425.3,356.1) rotate(-90)">1265.28</text>
<line x1="425.5" y1="309.0" x2="425.5" y2="329.3" stroke="#e0a8c0" stroke-width="0.9"/>
<text class="t" font-size="6.65" fill="#c030c0" stroke="#c030c0" stroke-width="0.15" transform="translate(428.4,356.1) rotate(-90)">1251.80</text>
<line x1="430.1" y1="309.0" x2="430.1" y2="329.3" stroke="#7c7cb0" stroke-width="0.9"/>
<text class="t" font-size="6.65" fill="#333333" stroke="#333333" stroke-width="0.15" transform="translate(433.0,356.1) rotate(-90)">1231.44</text>
<line x1="448.0" y1="309.0" x2="448.0" y2="329.3" stroke="#608a60" stroke-width="0.9"/>
<text class="t" font-size="6.65" fill="#3fc23f" stroke="#3fc23f" stroke-width="0.15" transform="translate(450.9,356.1) rotate(-90)">1158.56</text>
<line x1="454.8" y1="309.0" x2="454.8" y2="329.3" stroke="#7c7cb0" stroke-width="0.9"/>
<text class="t" font-size="6.65" fill="#333333" stroke="#333333" stroke-width="0.15" transform="translate(457.7,356.1) rotate(-90)">1121.77</text>
<line x1="460.5" y1="309.0" x2="460.5" y2="329.3" stroke="#a858c0" stroke-width="0.9"/>
<text class="t" font-size="6.65" fill="#c030c0" stroke="#c030c0" stroke-width="0.15" transform="translate(463.4,356.1) rotate(-90)">1093.60</text>
<line x1="463.0" y1="309.0" x2="463.0" y2="329.3" stroke="#e0a8c0" stroke-width="0.9"/>
<text class="t" font-size="6.65" fill="#c42040" stroke="#c42040" stroke-width="0.15" transform="translate(465.9,356.1) rotate(-90)">1087.70</text>
<line x1="474.7" y1="309.0" x2="474.7" y2="329.3" stroke="#9a4a66" stroke-width="0.9"/>
<text class="t" font-size="6.65" fill="#c42040" stroke="#c42040" stroke-width="0.15" transform="translate(477.6,356.1) rotate(-90)">1033.42</text>
<text class="t" font-size="6.65" fill="#3fc23f" stroke="#3fc23f" stroke-width="0.15" transform="translate(477.9,356.1) rotate(-90)">1033.42</text>
<line x1="483.0" y1="309.0" x2="483.0" y2="329.3" stroke="#7c7cb0" stroke-width="0.9"/>
<text class="t" font-size="6.65" fill="#333333" stroke="#333333" stroke-width="0.15" transform="translate(485.9,356.1) rotate(-90)">993.84</text>
<line x1="493.9" y1="309.0" x2="493.9" y2="329.3" stroke="#e0a8c0" stroke-width="0.9"/>
<text class="t" font-size="6.65" fill="#c42040" stroke="#c42040" stroke-width="0.15" transform="translate(496.8,356.1) rotate(-90)">942.34</text>
<line x1="501.5" y1="309.0" x2="501.5" y2="329.3" stroke="#7c7cb0" stroke-width="0.9"/>
<text class="t" font-size="6.65" fill="#333333" stroke="#333333" stroke-width="0.15" transform="translate(504.4,356.1) rotate(-90)">911.36</text>
<line x1="515.0" y1="309.0" x2="515.0" y2="329.3" stroke="#9a4a66" stroke-width="0.9"/>
<text class="t" font-size="6.65" fill="#c42040" stroke="#c42040" stroke-width="0.15" transform="translate(517.9,356.1) rotate(-90)">848.84</text>
<line x1="522.0" y1="309.0" x2="522.0" y2="329.3" stroke="#7c7cb0" stroke-width="0.9"/>
<text class="t" font-size="6.65" fill="#333333" stroke="#333333" stroke-width="0.15" transform="translate(524.9,356.1) rotate(-90)">817.00</text>
<path d="M527.1,309.0 L527.3,314.1 C527.5,318.1 529.0,319.1 529.0,322.2 L529.0,329.3" fill="none" stroke="#7c7cb0" stroke-width="0.9"/>
<text class="t" font-size="6.65" fill="#333333" stroke="#333333" stroke-width="0.15" transform="translate(530.9,356.1) rotate(-90)">793.49</text>
<line x1="538.5" y1="309.0" x2="538.5" y2="329.3" stroke="#7c7cb0" stroke-width="0.9"/>
<text class="t" font-size="6.65" fill="#333333" stroke="#333333" stroke-width="0.15" transform="translate(541.4,356.1) rotate(-90)">745.33</text>
<line x1="547.2" y1="309.0" x2="547.2" y2="329.3" stroke="#94d094" stroke-width="0.9"/>
<text class="t" font-size="6.65" fill="#3fc23f" stroke="#3fc23f" stroke-width="0.15" transform="translate(550.1,356.1) rotate(-90)">703.88</text>
<line x1="553.0" y1="309.0" x2="553.0" y2="329.3" stroke="#9a4a66" stroke-width="0.9"/>
<text class="t" font-size="6.65" fill="#c42040" stroke="#c42040" stroke-width="0.15" transform="translate(555.9,356.1) rotate(-90)">679.12</text>
<line x1="568.8" y1="309.0" x2="568.8" y2="329.3" stroke="#a858c0" stroke-width="0.9"/>
<text class="t" font-size="6.65" fill="#c42040" stroke="#c42040" stroke-width="0.15" transform="translate(572.0,356.1) rotate(-90)">605.69</text>
<text class="t" font-size="6.65" fill="#c030c0" stroke="#c030c0" stroke-width="0.15" transform="translate(571.7,356.1) rotate(-90)">605.69</text>
<line x1="575.5" y1="309.0" x2="575.5" y2="329.3" stroke="#94d094" stroke-width="0.9"/>
<text class="t" font-size="6.65" fill="#3fc23f" stroke="#3fc23f" stroke-width="0.15" transform="translate(578.4,356.1) rotate(-90)">576.74</text>
<line x1="580.1" y1="309.0" x2="580.1" y2="329.3" stroke="#7c7cb0" stroke-width="0.9"/>
<text class="t" font-size="6.65" fill="#333333" stroke="#333333" stroke-width="0.15" transform="translate(583.0,356.1) rotate(-90)">556.17</text>
<line x1="610.9" y1="309.0" x2="610.9" y2="329.3" stroke="#9a4a66" stroke-width="0.9"/>
<text class="t" font-size="6.65" fill="#c42040" stroke="#c42040" stroke-width="0.15" transform="translate(613.8,356.1) rotate(-90)">420.26</text>
<line x1="510.7" y1="18.5" x2="528.6" y2="18.5" stroke="#e0a8a8" stroke-width="0.9"/>
<text class="s" font-size="7.4" fill="#111" transform="translate(530.6,20.1) scale(0.91,1)">CLEO nanofiber</text>
<line x1="510.7" y1="26.1" x2="528.6" y2="26.1" stroke="#8c8cc8" stroke-width="0.9"/>
<text class="s" font-size="7.4" fill="#111" transform="translate(530.6,28.3) scale(0.91,1)">CLEO</text>
<line x1="510.7" y1="33.8" x2="528.6" y2="33.8" stroke="#a070d0" stroke-width="0.9"/>
<text class="s" font-size="7.4" fill="#111" transform="translate(530.6,36.0) scale(0.91,1)">PVA</text>
<line x1="510.7" y1="41.5" x2="528.6" y2="41.5" stroke="#c0ecc0" stroke-width="0.9"/>
<text class="s" font-size="7.4" fill="#111" transform="translate(530.6,43.7) scale(0.91,1)">β-CD</text>
<text class="s" font-size="28" fill="#000" stroke="#000" stroke-width="0.35" transform="translate(595.4,31.2) scale(0.9,1)">a</text>
<clipPath id="cb"><rect x="37.1" y="418.9" width="578.3" height="349.4"/></clipPath>
<g clip-path="url(#cb)" fill="none" stroke-linejoin="round" stroke-linecap="round">
<path d="M37.0,440.5C37.4,440.6 38.7,440.8 39.5,441.2C40.4,441.7 41.2,442.8 42.1,443.2C42.9,443.6 43.6,443.4 44.6,443.7C45.6,444.0 46.7,444.6 47.8,445.3C48.9,445.9 50.1,447.2 51.0,447.7C51.9,448.2 52.6,448.2 53.4,448.3C54.1,448.5 54.9,449.0 55.7,448.5C56.5,448.0 57.3,446.1 58.1,445.2C58.9,444.3 59.7,442.9 60.5,442.9C61.3,442.9 62.2,442.5 62.9,445.3C63.6,448.1 64.0,448.3 64.5,459.7C65.0,471.1 65.6,510.7 66.1,513.9C66.6,517.1 67.2,482.8 67.7,478.8C68.2,474.8 68.6,492.9 69.3,490.0C70.0,487.1 70.6,467.2 71.7,461.3C72.8,455.4 74.7,449.8 75.7,454.9C76.7,459.9 77.0,489.2 77.7,491.6C78.4,494.0 79.1,471.1 79.7,469.2C80.3,467.3 80.7,482.5 81.3,480.4C81.9,478.3 82.7,461.0 83.6,456.5C84.5,452.0 85.6,453.2 86.8,453.3C88.0,453.4 89.5,456.5 90.8,457.3C92.1,458.1 93.5,456.6 94.8,458.0C96.1,459.4 96.8,463.7 98.8,466.0C100.8,468.3 103.9,470.0 106.8,472.0C109.7,474.0 113.1,477.5 116.3,478.0C119.5,478.5 123.5,476.1 125.9,474.8C128.3,473.5 129.2,471.5 130.7,470.0C132.2,468.5 133.5,467.4 135.0,466.0C136.5,464.6 137.9,462.4 139.6,461.3C141.3,460.2 143.6,458.1 145.2,459.7C146.8,461.3 147.8,468.7 149.1,470.8C150.4,472.9 152.0,471.9 153.1,472.4C154.2,472.9 154.7,473.0 155.5,473.5C156.3,474.1 156.8,476.6 157.9,475.6C159.0,474.6 160.7,470.0 161.9,467.6C163.1,465.2 164.0,463.2 165.1,461.3C166.2,459.5 167.3,457.4 168.3,456.5C169.3,455.6 170.1,456.1 171.0,455.8C171.9,455.5 172.7,455.0 173.6,454.8C174.5,454.7 175.4,455.1 176.3,454.9C177.2,454.7 178.1,453.6 178.9,453.3C179.8,453.0 180.7,453.3 181.6,453.1C182.4,453.0 183.3,452.6 184.2,452.5C185.1,452.4 186.0,452.6 186.9,452.5C187.8,452.3 188.6,451.8 189.5,451.4C190.4,451.0 191.3,450.3 192.2,450.1C193.1,449.9 194.0,450.3 194.9,450.0C195.8,449.8 196.6,448.8 197.5,448.5C198.4,448.3 199.3,448.5 200.2,448.5C201.1,448.5 202.0,448.8 202.8,448.8C203.7,448.9 204.6,448.6 205.5,448.6C206.3,448.7 207.1,449.2 208.1,449.3C209.1,449.4 210.2,449.2 211.3,449.5C212.4,449.8 213.5,455.5 214.5,450.9C215.5,446.3 216.7,415.7 217.4,422.2C218.1,428.7 218.2,483.8 218.7,490.0C219.1,496.2 219.6,462.4 220.1,459.7C220.6,457.0 221.0,474.5 221.7,474.0C222.4,473.5 223.0,459.9 224.1,456.5C225.2,453.1 227.0,453.6 228.2,453.3C229.4,453.0 230.3,456.5 231.4,454.9C232.5,453.3 233.5,446.1 234.6,443.7C235.7,441.3 236.7,442.1 237.8,440.5C238.9,438.9 239.9,433.6 241.0,434.1C242.1,434.6 243.2,441.8 244.1,443.7C245.0,445.6 245.7,444.6 246.5,445.4C247.3,446.2 247.8,449.3 248.9,448.5C250.0,447.7 251.6,442.6 252.9,440.5C254.2,438.4 255.8,436.3 256.9,435.7C258.0,435.1 258.5,436.3 259.3,436.8C260.1,437.3 260.9,438.1 261.7,438.9C262.5,439.7 263.3,441.0 264.1,441.7C264.9,442.3 265.6,442.2 266.5,442.9C267.4,443.6 268.6,445.1 269.6,445.9C270.7,446.7 271.8,447.1 272.8,447.7C273.8,448.3 274.6,448.9 275.5,449.3C276.4,449.8 277.2,450.1 278.1,450.4C279.0,450.6 279.9,450.9 280.8,450.9C281.7,450.9 282.6,450.6 283.5,450.6C284.4,450.6 285.2,450.9 286.1,451.1C287.0,451.3 287.9,451.4 288.8,451.7C289.7,452.0 290.6,452.4 291.5,452.7C292.4,453.1 293.2,453.5 294.1,453.7C295.0,453.9 295.9,453.8 296.8,454.1C297.7,454.4 298.6,455.2 299.4,455.5C300.3,455.9 301.2,456.2 302.1,456.4C302.9,456.5 303.7,456.4 304.7,456.5C305.7,456.6 306.8,456.6 307.9,457.0C309.0,457.4 310.2,458.3 311.1,458.9C312.0,459.5 312.7,459.9 313.5,460.3C314.3,460.7 315.1,461.3 315.9,461.3C316.7,461.3 317.5,460.8 318.3,460.4C319.1,460.0 319.6,458.5 320.7,458.9C321.8,459.3 323.9,461.9 325.0,462.8C326.1,463.7 326.6,463.7 327.4,464.2C328.3,464.6 328.2,464.3 329.9,465.5C331.6,466.7 334.9,471.1 337.4,471.1C339.9,471.1 342.4,467.4 344.9,465.5C347.4,463.6 350.1,461.1 352.3,459.9C354.5,458.6 356.0,457.4 357.9,458.0C359.8,458.6 361.7,462.1 363.6,463.6C365.5,465.2 367.3,466.7 369.2,467.3C371.1,467.9 372.9,466.4 374.8,467.3C376.7,468.2 378.5,471.1 380.4,473.0C382.3,474.9 384.1,476.7 386.0,478.6C387.9,480.5 389.7,483.9 391.6,484.2C393.5,484.5 395.8,480.1 397.2,480.4C398.6,480.7 398.6,486.6 400.0,486.0C401.4,485.4 403.7,478.6 405.6,476.7C407.5,474.8 409.3,475.7 411.2,474.8C413.1,473.9 414.9,471.1 416.8,471.1C418.7,471.1 420.2,475.4 422.4,474.8C424.6,474.2 427.4,469.5 429.9,467.3C432.4,465.1 435.5,463.4 437.4,461.7C439.3,460.0 440.0,455.3 441.1,456.9C442.2,458.5 443.2,461.9 444.1,471.1C445.0,480.3 445.6,507.2 446.7,512.2C447.8,517.2 449.2,502.2 450.5,501.0C451.8,499.8 452.6,499.7 454.2,504.7C455.8,509.7 458.2,520.9 459.8,530.9C461.4,540.9 462.7,554.5 463.6,564.5C464.5,574.5 464.7,589.5 465.4,590.7C466.1,592.0 466.9,566.4 468.0,572.0C469.1,577.6 470.7,605.6 471.8,624.3C472.9,643.0 474.0,671.7 474.8,684.2C475.6,696.7 475.9,706.6 476.6,699.1C477.4,691.6 478.4,658.6 479.3,639.3C480.2,620.0 481.1,600.0 482.2,583.2C483.3,566.4 484.4,549.0 486.0,538.4C487.6,527.8 489.7,524.7 491.6,519.7C493.5,514.7 495.0,511.6 497.2,508.5C499.4,505.4 502.3,503.2 504.7,501.0C507.1,498.8 509.3,494.7 511.5,495.4C513.7,496.1 515.9,502.4 518.0,505.1C520.1,507.8 522.8,509.4 524.4,511.5C526.0,513.6 526.6,515.5 527.6,517.7C528.7,519.8 529.8,522.0 530.9,524.5C532.0,527.0 533.1,530.2 534.1,532.9C535.2,535.6 536.3,538.8 537.4,540.7C538.5,542.6 539.6,543.1 540.6,544.2C541.7,545.3 542.8,546.4 543.9,547.2C545.0,548.0 546.1,548.8 547.1,549.3C548.2,549.8 549.3,558.3 550.4,550.4C551.5,542.5 552.6,500.7 553.6,501.8C554.6,502.9 555.1,544.5 556.2,556.9C557.3,569.3 559.1,572.1 560.1,576.3C561.1,580.5 561.7,580.2 562.5,582.4C563.3,584.5 563.9,584.9 564.9,589.3C565.9,593.7 567.1,602.2 568.2,608.7C569.3,615.2 570.3,620.6 571.4,628.2C572.5,635.8 573.4,654.1 574.6,654.1C575.9,654.1 577.5,633.6 578.9,628.2C580.2,622.8 581.2,619.0 582.7,621.7C584.2,624.4 586.0,643.9 587.6,644.4C589.2,644.9 591.3,627.1 592.5,624.9C593.7,622.7 594.1,628.9 594.9,631.0C595.7,633.2 596.5,637.4 597.3,637.9C598.1,638.4 598.9,635.2 599.8,634.2C600.6,633.1 601.3,629.4 602.2,631.4C603.1,633.4 604.1,642.6 605.0,646.0C605.9,649.4 606.8,645.4 607.8,651.6C608.8,657.9 610.1,682.1 610.8,683.5C611.5,684.9 611.4,664.8 611.8,660.0C612.2,655.2 612.7,648.5 613.2,655.0C613.7,661.5 614.2,689.5 614.8,699.0C615.3,708.5 616.2,709.8 616.5,712.0" stroke="#90d690" stroke-width="1.0"/>
<path d="M37.0,458.4C37.4,458.4 38.5,458.5 39.2,458.5C40.0,458.5 40.7,458.5 41.4,458.5C42.2,458.5 42.9,458.7 43.6,458.7C44.4,458.7 45.1,458.4 45.9,458.5C46.6,458.5 47.3,458.9 48.1,459.0C48.8,459.1 49.5,459.1 50.3,459.1C51.0,459.1 51.6,458.7 52.5,458.9C53.4,459.1 54.6,460.7 55.7,460.5C56.8,460.3 57.7,457.8 58.9,457.7C60.1,457.6 61.7,458.0 62.9,459.7C64.1,461.4 65.3,465.8 66.1,467.6C66.9,469.5 67.2,471.6 67.7,470.8C68.2,470.0 68.4,464.4 69.3,462.8C70.2,461.2 71.8,460.8 73.3,461.3C74.8,461.8 76.8,464.1 78.1,466.0C79.4,467.9 80.2,470.8 81.3,472.4C82.3,474.0 83.1,471.1 84.4,475.6C85.7,480.1 88.0,493.0 89.2,499.5C90.4,506.0 90.4,504.8 91.8,514.8C93.2,524.8 95.8,545.8 97.8,559.7C99.8,573.7 101.8,588.8 103.8,598.5C105.8,608.2 107.8,616.0 109.8,618.0C111.8,620.0 113.8,616.7 115.8,610.5C117.8,604.3 119.7,592.1 121.7,580.6C123.7,569.1 125.7,554.2 127.7,541.7C129.7,529.2 131.4,516.3 133.7,505.8C135.9,495.3 138.9,484.6 141.2,478.9C143.4,473.2 145.4,470.9 147.2,471.4C148.9,471.9 150.6,473.2 151.7,481.9C152.8,490.6 153.2,514.3 153.8,523.8C154.4,533.3 154.7,538.2 155.3,538.7C155.9,539.2 156.8,533.7 157.6,526.7C158.4,519.7 159.0,504.8 160.0,496.8C161.0,488.8 162.5,482.7 163.5,478.8C164.5,474.9 165.1,475.3 165.9,473.4C166.7,471.5 167.4,469.0 168.3,467.6C169.2,466.2 170.4,465.9 171.5,464.8C172.6,463.8 173.7,462.0 174.7,461.3C175.7,460.6 176.5,460.9 177.3,460.7C178.2,460.4 179.1,460.3 180.0,459.8C180.8,459.4 181.7,458.5 182.6,458.0C183.5,457.5 184.4,457.2 185.3,456.8C186.2,456.4 187.0,456.1 187.9,455.5C188.8,455.0 189.6,453.9 190.6,453.3C191.6,452.7 192.7,452.0 193.8,451.7C194.9,451.5 195.9,452.0 197.0,451.7C198.1,451.4 199.1,450.6 200.2,450.0C201.3,449.5 202.3,448.3 203.4,448.5C204.5,448.7 205.5,450.5 206.6,451.2C207.6,451.9 208.8,452.4 209.7,452.5C210.6,452.6 211.3,452.2 212.1,451.9C212.9,451.7 213.7,450.5 214.5,450.9C215.3,451.3 216.1,453.4 216.9,454.3C217.7,455.3 218.5,455.1 219.3,456.5C220.1,457.9 220.6,462.6 221.7,462.8C222.8,463.1 224.3,459.6 225.7,458.0C227.1,456.4 229.1,455.2 230.0,453.3C230.9,451.4 230.6,451.7 231.4,446.9C232.2,442.1 233.5,428.6 234.6,424.6C235.7,420.6 236.9,423.0 237.8,423.0C238.7,423.0 239.5,422.5 240.2,424.6C240.8,426.7 241.2,432.8 241.7,435.7C242.2,438.6 242.6,440.0 243.3,442.1C244.0,444.2 244.6,447.2 245.7,448.5C246.8,449.8 248.4,451.4 249.7,450.1C251.0,448.8 252.5,443.0 253.7,440.5C254.9,438.0 255.7,435.6 256.9,434.9C258.1,434.2 259.8,435.9 260.9,436.5C262.0,437.1 262.8,437.5 263.7,438.3C264.6,439.1 265.5,440.5 266.5,441.3C267.5,442.1 268.6,442.6 269.6,443.3C270.7,443.9 271.7,444.8 272.8,445.3C273.9,445.8 274.9,445.7 276.0,446.1C277.1,446.5 278.3,447.6 279.2,447.7C280.1,447.8 280.8,447.0 281.6,446.6C282.4,446.2 283.2,445.7 284.0,445.3C284.8,444.9 285.6,444.6 286.4,444.2C287.2,443.8 288.0,443.0 288.8,442.9C289.6,442.8 290.4,442.9 291.2,443.3C292.0,443.7 292.8,445.2 293.6,445.3C294.4,445.4 295.2,444.0 296.0,443.6C296.8,443.2 297.6,443.0 298.4,442.9C299.2,442.8 300.0,442.8 300.8,442.9C301.5,443.1 302.3,443.3 303.1,443.7C303.9,444.1 304.7,444.9 305.5,445.2C306.3,445.4 307.0,444.5 307.9,445.3C308.8,446.1 310.3,447.2 311.1,450.1C311.9,453.0 312.2,456.7 312.7,462.8C313.2,468.9 313.8,477.3 314.3,486.8C314.8,496.3 315.3,508.6 315.9,519.7C316.5,530.8 317.3,551.4 318.1,553.3C318.9,555.2 319.7,539.9 320.6,530.9C321.5,521.9 322.5,509.7 323.4,499.1C324.3,488.5 325.1,474.0 326.2,467.3C327.3,460.6 328.0,460.9 329.9,458.9C331.8,456.9 334.9,456.3 337.4,455.2C339.9,454.1 342.7,453.5 344.9,452.4C347.1,451.3 348.6,450.2 350.5,448.6C352.4,447.0 354.6,444.4 356.1,443.0C357.7,441.6 358.6,440.2 359.8,440.2C361.1,440.2 362.4,441.3 363.6,443.0C364.9,444.7 366.1,448.3 367.3,450.5C368.5,452.7 369.8,451.7 371.0,456.1C372.2,460.5 373.6,467.3 374.8,476.7C376.1,486.1 377.3,500.7 378.5,512.2C379.7,523.7 381.1,534.6 382.2,545.8C383.3,557.0 384.2,577.1 385.2,579.5C386.2,581.9 387.1,566.4 388.0,560.0C388.9,553.6 389.6,546.1 390.7,541.1C391.8,536.1 393.6,524.2 394.8,530.1C396.0,536.0 397.0,574.9 398.1,576.7C399.2,578.5 400.3,548.4 401.6,541.1C402.9,533.8 404.4,532.9 405.8,532.9C407.2,532.9 408.5,541.1 409.9,541.1C411.3,541.1 412.6,528.9 414.0,532.9C415.4,536.9 417.0,548.5 418.4,565.0C419.8,581.5 421.2,616.5 422.4,632.0C423.6,647.5 424.3,659.9 425.4,658.0C426.5,656.1 427.9,639.3 429.2,620.6C430.4,601.9 431.5,566.4 432.9,545.8C434.3,525.2 435.9,507.8 437.4,497.2C438.9,486.6 440.5,486.6 441.9,482.3C443.3,478.0 444.5,463.6 445.6,471.1C446.7,478.6 447.5,502.2 448.6,527.1C449.7,552.0 451.1,596.9 452.3,620.6C453.6,644.3 454.7,655.5 456.1,669.2C457.5,682.9 459.2,702.9 460.6,702.9C462.0,702.9 463.2,678.6 464.3,669.2C465.4,659.9 466.2,648.7 467.3,646.8C468.4,644.9 469.8,654.3 471.0,658.0C472.2,661.7 473.6,678.6 474.8,669.2C476.1,659.9 477.3,625.6 478.5,601.9C479.7,578.2 480.6,543.9 482.2,527.1C483.8,510.3 485.7,506.0 487.9,501.0C490.1,496.0 492.8,499.1 495.3,497.2C497.8,495.3 501.2,492.3 502.8,489.8C504.4,487.3 504.1,485.2 505.0,482.4C505.9,479.6 507.3,470.7 508.4,472.9C509.5,475.1 510.4,484.6 511.5,495.4C512.5,506.2 513.6,527.8 514.7,537.5C515.8,547.2 516.6,554.8 518.0,553.7C519.4,552.6 521.2,537.5 522.8,531.0C524.4,524.5 526.1,515.3 527.7,514.8C529.3,514.2 530.9,521.2 532.5,527.7C534.1,534.2 535.5,546.1 537.4,553.7C539.3,561.3 542.3,568.4 543.9,573.1C545.5,577.8 546.1,579.1 547.1,581.8C548.2,584.5 548.8,584.8 550.4,589.3C552.0,593.8 554.6,601.7 556.8,608.7C558.9,615.7 561.3,623.8 563.3,631.4C565.3,639.0 567.2,653.0 568.8,654.1C570.4,655.2 571.5,643.3 573.0,637.9C574.5,632.5 576.5,624.8 577.9,621.7C579.3,618.6 580.1,620.0 581.1,619.5C582.2,618.9 582.8,619.6 584.4,618.4C586.0,617.2 588.6,614.1 590.8,612.0C592.9,609.9 595.8,607.7 597.3,606.0C598.8,604.3 599.0,603.7 599.9,602.0C600.8,600.3 602.1,593.8 602.9,596.0C603.7,598.2 604.2,615.7 604.9,615.0C605.6,614.3 606.3,593.7 606.9,592.0C607.5,590.3 607.9,599.8 608.5,605.0C609.1,610.2 610.2,624.3 610.8,623.0C611.3,621.7 611.5,602.5 611.8,597.0C612.1,591.5 612.3,588.7 612.8,590.0C613.2,591.3 613.9,603.3 614.5,605.0C615.1,606.7 616.2,600.8 616.5,600.0" stroke="#d392d8" stroke-width="1.0"/>
<path d="M37.0,435.4C39.3,435.4 46.0,435.9 51.0,435.7C56.0,435.5 62.4,434.2 66.9,434.1C71.4,434.0 75.6,434.1 78.1,434.9C80.6,435.7 81.0,437.2 82.0,438.9C83.0,440.6 83.6,442.9 84.4,445.3C85.2,447.7 85.9,450.6 86.8,453.3C87.7,456.0 88.8,458.1 90.0,461.3C91.2,464.5 92.5,467.6 94.0,472.4C95.5,477.2 97.2,483.9 98.8,490.0C100.4,496.1 102.3,503.8 103.8,508.8C105.3,513.8 106.5,516.8 108.0,520.0C109.5,523.2 111.3,527.4 112.8,528.2C114.3,529.0 115.5,527.2 117.0,525.0C118.5,522.8 120.2,519.0 121.7,514.8C123.2,510.6 124.5,505.0 126.0,500.0C127.5,495.0 129.4,489.9 130.7,484.9C132.0,479.9 132.8,473.8 134.0,470.0C135.2,466.2 136.6,465.2 138.2,462.4C139.8,459.6 141.8,453.5 143.6,453.3C145.3,453.1 147.1,456.2 148.7,461.0C150.3,465.8 152.0,476.9 153.2,481.9C154.4,486.9 155.1,492.4 156.1,490.9C157.1,489.4 157.9,478.0 159.1,472.9C160.2,467.8 161.9,463.0 163.0,460.0C164.1,457.0 164.7,456.6 165.5,454.8C166.3,453.0 167.2,450.2 168.0,449.0C168.8,447.8 169.6,448.0 170.3,447.3C171.1,446.7 171.9,445.7 172.7,445.0C173.4,444.3 174.2,443.5 175.0,443.0C175.8,442.5 176.6,442.2 177.3,441.8C178.1,441.3 178.9,440.8 179.7,440.5C180.4,440.2 181.2,440.2 182.0,440.0C182.8,439.8 183.8,439.6 184.7,439.3C185.6,439.0 186.4,438.5 187.3,438.2C188.2,437.8 189.1,437.5 190.0,437.3C190.9,437.1 191.7,437.3 192.5,437.1C193.3,436.9 194.2,436.4 195.0,436.3C195.8,436.1 196.7,436.3 197.5,436.2C198.3,436.1 199.2,435.7 200.0,435.5C200.8,435.3 201.6,435.2 202.3,435.2C203.1,435.2 203.9,435.6 204.7,435.6C205.4,435.7 206.2,435.6 207.0,435.5C207.8,435.4 208.6,435.1 209.3,435.1C210.1,435.0 210.9,435.1 211.7,435.1C212.4,435.1 213.2,435.1 214.0,435.0C214.8,434.9 215.8,434.8 216.7,434.5C217.6,434.2 218.4,433.6 219.3,433.4C220.2,433.1 221.1,433.3 222.0,433.0C222.9,432.7 223.8,431.9 224.7,431.4C225.6,430.9 226.4,430.5 227.3,430.0C228.2,429.4 229.1,428.7 230.0,428.0C230.9,427.3 232.0,426.6 233.0,426.0C234.0,425.4 235.1,424.8 236.0,424.5C236.9,424.2 237.7,424.6 238.5,424.5C239.3,424.3 240.1,423.6 241.0,423.8C241.9,424.0 243.1,425.1 244.2,425.6C245.2,426.1 246.4,426.8 247.3,427.0C248.2,427.2 248.9,426.8 249.7,426.5C250.5,426.3 251.3,425.6 252.1,425.2C252.9,424.8 253.7,424.4 254.5,424.2C255.3,424.0 256.1,423.7 256.9,423.8C257.7,423.9 258.5,424.6 259.3,424.9C260.1,425.2 260.9,425.5 261.7,425.7C262.5,425.9 263.3,425.9 264.1,426.1C264.9,426.4 265.7,426.9 266.5,427.0C267.3,427.1 268.1,426.9 268.9,427.0C269.7,427.1 270.5,427.3 271.2,427.5C272.0,427.7 272.8,428.2 273.6,428.3C274.4,428.5 275.2,428.6 276.0,428.6C276.8,428.6 277.7,428.4 278.6,428.6C279.4,428.7 280.3,429.3 281.1,429.4C282.0,429.5 282.8,429.2 283.7,429.2C284.5,429.1 285.4,428.9 286.2,428.9C287.1,429.0 288.0,429.3 288.8,429.4C289.6,429.5 290.4,429.7 291.2,429.8C292.0,429.8 292.8,429.5 293.6,429.7C294.4,429.8 295.2,430.3 296.0,430.4C296.8,430.5 297.6,430.1 298.4,430.2C299.2,430.3 300.0,430.8 300.8,430.8C301.6,430.9 302.4,430.7 303.2,430.7C304.0,430.7 304.8,430.4 305.6,430.9C306.4,431.4 307.2,432.7 308.0,433.6C308.7,434.4 309.4,431.3 310.3,436.0C311.2,440.7 312.2,452.7 313.1,461.7C314.0,470.7 315.1,482.6 315.9,489.8C316.7,497.0 317.2,503.8 317.8,504.7C318.4,505.6 318.8,498.5 319.6,495.4C320.4,492.3 321.3,490.7 322.4,486.0C323.5,481.3 324.9,472.4 326.2,467.3C327.4,462.2 328.0,458.5 329.9,455.2C331.8,451.9 334.9,449.6 337.4,447.7C339.9,445.8 342.4,444.9 344.9,444.0C347.4,443.1 349.8,442.3 352.3,442.1C354.8,441.9 357.6,441.9 359.8,443.0C362.0,444.1 363.5,446.1 365.4,448.6C367.3,451.1 369.4,454.9 371.0,458.0C372.6,461.1 373.6,461.4 374.8,467.3C376.1,473.2 377.3,483.5 378.5,493.5C379.7,503.5 380.9,520.2 382.2,527.1C383.4,534.0 384.8,535.8 386.0,534.6C387.2,533.4 388.4,524.7 389.7,519.7C390.9,514.7 392.4,506.6 393.5,504.7C394.6,502.8 395.2,506.6 396.3,508.5C397.4,510.4 398.8,515.7 400.0,516.0C401.2,516.3 402.1,510.3 403.7,510.3C405.2,510.3 407.6,516.0 409.3,516.0C411.1,516.0 412.6,506.6 414.2,510.3C415.8,514.0 417.3,526.9 418.7,538.4C420.1,549.9 421.1,570.2 422.4,579.5C423.6,588.8 424.9,596.9 426.2,594.4C427.4,591.9 428.7,578.2 429.9,564.5C431.1,550.8 432.0,525.3 433.6,512.2C435.2,499.1 437.6,491.3 439.3,486.0C441.1,480.7 442.9,477.9 444.1,480.4C445.3,482.9 445.6,485.7 446.7,501.0C447.8,516.3 449.2,549.6 450.5,572.0C451.8,594.4 452.8,621.9 454.2,635.6C455.6,649.3 457.5,654.9 459.1,654.3C460.7,653.7 462.4,637.7 463.6,631.8C464.8,625.9 465.4,615.0 466.5,618.7C467.6,622.5 469.1,640.9 470.3,654.3C471.6,667.7 472.9,700.4 474.0,699.1C475.1,697.9 475.5,670.5 476.6,646.8C477.7,623.1 479.1,579.4 480.4,557.0C481.6,534.6 482.6,521.5 484.1,512.2C485.7,502.9 487.8,502.2 489.7,501.0C491.6,499.8 493.4,505.3 495.3,504.7C497.2,504.1 499.0,500.9 500.9,497.2C502.8,493.5 505.1,486.5 506.5,482.3C507.9,478.1 508.2,466.6 509.0,472.0C509.8,477.4 510.3,502.8 511.5,514.8C512.7,526.8 514.7,541.3 516.3,544.0C517.9,546.7 519.6,535.9 521.2,531.0C522.8,526.1 524.8,518.3 526.1,514.8C527.5,511.3 527.9,507.8 529.3,510.0C530.6,512.1 532.6,520.4 534.2,527.7C535.8,535.0 537.1,546.7 539.0,553.7C540.9,560.7 543.9,565.8 545.5,569.9C547.1,574.0 547.7,575.3 548.8,578.0C549.8,580.7 550.4,580.4 552.0,586.1C553.6,591.8 557.0,607.1 558.5,612.0C560.0,616.9 560.1,614.5 560.9,615.6C561.7,616.6 562.1,614.1 563.3,618.4C564.5,622.7 566.9,638.4 568.2,641.1C569.6,643.8 570.5,636.4 571.4,634.6C572.3,632.8 573.0,631.9 573.8,630.3C574.7,628.7 575.4,626.1 576.3,624.9C577.2,623.7 578.4,623.6 579.5,623.0C580.6,622.5 581.1,623.0 582.7,621.7C584.3,620.4 587.0,617.0 589.2,615.2C591.4,613.4 594.4,612.2 595.7,611.0C597.0,609.8 596.3,609.2 597.0,608.0C597.7,606.8 599.0,605.7 600.0,604.0C601.0,602.3 602.2,596.7 603.0,598.0C603.8,599.3 604.3,612.7 605.0,612.0C605.7,611.3 606.3,595.3 607.0,594.0C607.7,592.7 608.3,600.0 609.0,604.0C609.7,608.0 610.4,619.3 611.0,618.0C611.6,616.7 612.0,600.3 612.5,596.0C613.0,591.7 613.3,590.3 614.0,592.0C614.7,593.7 616.1,603.7 616.5,606.0" stroke="#e6bcbf" stroke-width="1.0"/>
<path d="M37.0,424.9C40.1,425.0 52.1,425.6 55.7,425.4C59.4,425.2 57.6,424.0 58.9,423.8C60.2,423.6 61.3,424.0 63.7,424.3C66.1,424.6 70.9,424.9 73.3,425.4C75.7,425.8 76.6,426.3 78.1,427.0C79.5,427.7 81.1,427.9 82.0,429.4C82.9,430.8 83.1,432.8 83.6,435.7C84.1,438.6 84.7,443.2 85.2,446.9C85.7,450.6 86.0,454.8 86.8,458.0C87.6,461.2 88.8,464.2 90.0,466.0C91.2,467.8 92.3,468.5 94.0,468.9C95.7,469.3 98.8,469.1 100.4,468.4C102.0,467.6 102.3,466.9 103.6,464.4C104.9,461.9 106.6,457.0 108.4,453.3C110.2,449.6 112.3,445.3 114.7,442.1C117.1,438.9 120.0,436.0 122.7,434.1C125.4,432.2 128.4,431.3 130.7,431.0C133.0,430.7 135.1,430.4 136.4,432.5C137.8,434.6 138.0,441.6 138.8,443.7C139.6,445.8 140.4,446.0 141.2,445.3C142.0,444.6 142.8,440.0 143.6,439.7C144.4,439.4 145.3,442.1 146.0,443.7C146.7,445.3 146.8,447.8 147.5,449.3C148.2,450.8 149.2,450.2 149.9,452.5C150.6,454.8 150.7,460.0 151.5,462.8C152.3,465.6 153.8,468.7 154.7,469.2C155.6,469.7 156.3,467.6 157.1,466.0C157.9,464.4 158.7,462.5 159.5,459.7C160.3,456.9 161.2,451.2 161.9,449.3C162.6,447.4 162.9,447.1 163.5,448.5C164.1,449.9 164.7,458.8 165.4,458.0C166.1,457.2 166.9,447.9 167.5,443.7C168.1,439.4 168.3,434.8 169.1,432.5C169.9,430.2 170.9,430.2 172.3,429.7C173.8,429.2 175.6,429.7 177.8,429.4C180.1,429.1 183.1,428.5 185.8,427.8C188.5,427.1 191.1,426.2 193.8,425.4C196.5,424.6 199.2,423.4 201.8,423.0C204.5,422.6 207.3,422.9 209.7,423.0C212.1,423.1 214.6,424.1 216.1,423.8C217.6,423.5 217.8,421.0 218.5,421.4C219.2,421.8 219.2,425.9 220.1,426.2C221.0,426.5 222.5,424.1 224.1,423.0C225.7,421.9 227.8,420.5 229.8,419.8C231.8,419.1 234.1,418.7 236.2,419.0C238.3,419.3 240.7,420.7 242.5,421.4C244.3,422.1 245.2,423.4 247.3,423.0C249.4,422.6 252.6,419.7 255.3,419.0C258.0,418.3 260.9,418.6 263.3,419.0C265.7,419.4 267.1,420.6 269.7,421.4C272.3,422.2 276.0,423.0 279.2,423.8C282.4,424.6 286.1,425.5 288.8,426.2C291.5,426.9 293.3,427.6 295.2,427.8C297.1,428.0 298.7,427.3 300.0,427.1C301.3,426.9 302.2,426.2 303.1,426.5C304.0,426.8 304.7,427.5 305.6,429.0C306.5,430.5 307.1,434.2 308.4,435.6C309.6,437.0 311.5,435.7 313.1,437.4C314.7,439.1 316.4,443.1 317.8,445.8C319.2,448.5 320.4,453.0 321.5,453.3C322.6,453.6 323.3,449.7 324.3,447.7C325.3,445.7 326.8,441.3 327.7,441.2C328.6,441.1 329.1,444.9 329.9,446.8C330.7,448.7 331.8,452.6 332.7,452.4C333.6,452.2 334.7,446.6 335.5,445.8C336.3,445.0 336.8,442.9 337.4,447.7C338.0,452.5 338.8,470.0 339.3,474.8C339.8,479.6 339.8,479.8 340.2,476.7C340.6,473.6 341.0,460.2 341.5,456.1C342.0,452.1 342.4,449.9 343.0,452.4C343.6,454.9 344.3,462.1 344.9,471.1C345.5,480.1 346.0,505.1 346.7,506.6C347.4,508.2 348.2,490.1 349.0,480.4C349.8,470.7 350.5,455.8 351.4,448.6C352.3,441.4 353.3,439.7 354.2,437.4C355.1,435.1 356.1,434.3 357.0,434.6C357.9,434.9 358.9,435.7 359.8,439.3C360.7,442.9 361.8,447.7 362.6,456.1C363.4,464.5 363.9,465.8 364.5,489.8C365.1,513.8 365.4,564.5 366.0,600.0C366.6,635.5 367.5,702.7 368.2,702.7C368.9,702.7 369.5,630.5 370.0,600.0C370.5,569.5 370.8,540.0 371.2,520.0C371.6,500.0 372.0,489.2 372.5,480.0C373.0,470.8 373.7,464.4 374.4,464.5C375.1,464.6 375.8,466.2 376.6,480.4C377.4,494.6 378.6,537.8 379.4,549.6C380.2,561.4 380.7,555.5 381.3,551.4C381.9,547.3 382.4,518.6 383.2,525.3C384.0,532.0 385.1,594.6 386.0,591.8C386.9,589.0 388.0,527.1 388.8,508.5C389.6,489.9 389.9,488.0 390.7,480.4C391.5,472.8 392.6,463.6 393.5,462.7C394.4,461.8 395.4,467.2 396.3,474.8C397.2,482.4 398.4,499.8 399.1,508.5C399.8,517.2 399.7,532.0 400.3,527.0C400.9,522.0 401.8,489.8 403.0,478.6C404.2,467.4 405.8,460.5 407.5,459.9C409.2,459.3 411.6,463.6 413.1,474.8C414.7,486.0 415.6,502.8 416.8,527.1C418.1,551.4 419.7,593.8 420.6,620.6C421.6,647.4 421.9,688.0 422.5,688.0C423.1,688.0 423.7,636.8 424.3,620.6C424.9,604.4 425.6,592.6 426.2,590.7C426.8,588.8 427.4,595.7 428.0,609.4C428.6,623.1 429.2,671.8 430.0,673.0C430.8,674.2 432.0,622.5 432.9,616.9C433.8,611.3 434.4,644.9 435.5,639.3C436.6,633.7 438.1,598.8 439.3,583.2C440.6,567.6 441.9,553.9 443.0,545.8C444.1,537.7 444.8,525.2 445.6,534.6C446.4,544.0 447.3,584.5 447.9,601.9C448.5,619.3 448.7,649.9 449.3,639.3C449.9,628.7 450.8,550.9 451.6,538.4C452.4,525.9 453.4,549.6 454.2,564.5C454.9,579.4 455.6,623.8 456.1,628.0C456.7,632.2 457.0,608.0 457.5,590.0C458.0,572.0 458.1,538.3 459.1,519.7C460.1,501.1 462.1,487.3 463.6,478.6C465.1,469.9 466.8,465.4 468.0,467.3C469.2,469.2 470.1,472.7 471.0,489.8C471.9,506.9 473.0,544.3 473.6,570.0C474.2,595.7 474.3,642.3 474.8,644.0C475.3,645.7 476.2,593.2 476.6,580.0C477.0,566.8 476.9,575.8 477.4,564.5C477.8,553.2 478.7,520.3 479.3,512.2C479.9,504.1 480.5,511.6 481.1,516.0C481.7,520.4 482.3,539.6 483.0,538.4C483.7,537.1 484.3,517.2 485.2,508.5C486.1,499.8 487.5,487.9 488.6,486.0C489.7,484.1 490.5,494.1 491.6,497.2C492.7,500.3 494.2,496.6 495.3,504.7C496.4,512.8 497.0,529.0 497.9,545.8C498.8,562.6 499.9,603.8 500.9,605.7C501.9,607.6 503.0,573.2 503.9,557.0C504.8,540.8 505.5,520.9 506.5,508.5C507.5,496.1 509.0,483.5 509.9,482.4C510.8,481.3 511.3,492.6 512.1,501.8C512.9,511.0 513.7,539.6 514.7,537.5C515.7,535.4 517.1,490.0 518.0,488.9C518.9,487.8 519.5,513.5 520.2,531.0C521.0,548.5 521.8,592.9 522.5,594.0C523.2,595.1 523.8,544.2 524.4,537.5C525.0,530.8 525.5,541.7 526.1,553.7C526.7,565.7 527.0,610.6 527.7,609.5C528.4,608.4 529.6,566.8 530.3,547.2C531.0,527.6 531.4,502.9 531.9,492.1C532.4,481.3 532.9,480.8 533.5,482.4C534.1,484.0 535.0,484.8 535.8,501.8C536.6,518.8 537.6,579.5 538.4,584.4C539.2,589.3 539.9,544.2 540.6,531.0C541.4,517.8 542.1,507.0 542.9,505.1C543.7,503.2 544.4,521.5 545.2,519.6C546.0,517.7 546.9,496.9 547.8,493.7C548.7,490.5 549.4,500.7 550.4,500.2C551.4,499.7 552.5,488.1 553.6,490.5C554.7,492.9 555.8,505.3 556.8,514.8C557.8,524.2 558.6,545.1 559.4,547.2C560.2,549.4 560.8,533.7 561.7,527.7C562.6,521.8 563.8,512.0 564.9,511.5C566.0,511.0 567.1,516.9 568.2,524.5C569.3,532.1 570.3,556.1 571.4,556.9C572.5,557.7 573.5,532.1 574.6,529.4C575.7,526.7 576.9,531.5 577.9,540.7C578.9,549.9 579.6,582.8 580.5,584.4C581.4,586.0 581.9,558.8 583.4,550.4C584.9,542.0 587.2,535.3 589.2,534.2C591.2,533.1 593.8,539.0 595.7,543.9C597.6,548.8 599.2,557.4 600.6,563.4C602.0,569.4 602.7,575.3 603.8,579.6C604.9,583.9 605.9,588.8 607.0,589.3C608.1,589.8 609.2,585.5 610.3,582.8C611.4,580.1 612.4,575.0 613.5,573.1C614.6,571.2 616.4,571.8 617.0,571.5" stroke="#50508a" stroke-width="1.0"/>
</g>
<rect x="37.1" y="418.9" width="578.3" height="349.4" fill="none" stroke="#8a8a8a" stroke-width="1.2"/>
<line x1="33.5" y1="421.8" x2="37.1" y2="421.8" stroke="#7a7a7a" stroke-width="1"/>
<text class="t" x="0" y="0" font-size="8.7" fill="#444" stroke="#444" stroke-width="0.12" text-anchor="middle" transform="translate(26.0,422.3) rotate(-90) scale(0.9,1)">100</text>
<line x1="33.5" y1="465.3" x2="37.1" y2="465.3" stroke="#7a7a7a" stroke-width="1"/>
<text class="t" x="0" y="0" font-size="8.7" fill="#444" stroke="#444" stroke-width="0.12" text-anchor="middle" transform="translate(26.0,465.8) rotate(-90) scale(0.9,1)">90</text>
<line x1="33.5" y1="508.8" x2="37.1" y2="508.8" stroke="#7a7a7a" stroke-width="1"/>
<text class="t" x="0" y="0" font-size="8.7" fill="#444" stroke="#444" stroke-width="0.12" text-anchor="middle" transform="translate(26.0,509.3) rotate(-90) scale(0.9,1)">80</text>
<line x1="33.5" y1="552.3" x2="37.1" y2="552.3" stroke="#7a7a7a" stroke-width="1"/>
<text class="t" x="0" y="0" font-size="8.7" fill="#444" stroke="#444" stroke-width="0.12" text-anchor="middle" transform="translate(26.0,552.8) rotate(-90) scale(0.9,1)">70</text>
<line x1="33.5" y1="595.8" x2="37.1" y2="595.8" stroke="#7a7a7a" stroke-width="1"/>
<text class="t" x="0" y="0" font-size="8.7" fill="#444" stroke="#444" stroke-width="0.12" text-anchor="middle" transform="translate(26.0,596.3) rotate(-90) scale(0.9,1)">60</text>
<line x1="33.5" y1="639.3" x2="37.1" y2="639.3" stroke="#7a7a7a" stroke-width="1"/>
<text class="t" x="0" y="0" font-size="8.7" fill="#444" stroke="#444" stroke-width="0.12" text-anchor="middle" transform="translate(26.0,639.8) rotate(-90) scale(0.9,1)">50</text>
<line x1="33.5" y1="682.8" x2="37.1" y2="682.8" stroke="#7a7a7a" stroke-width="1"/>
<text class="t" x="0" y="0" font-size="8.7" fill="#444" stroke="#444" stroke-width="0.12" text-anchor="middle" transform="translate(26.0,683.3) rotate(-90) scale(0.9,1)">40</text>
<text class="t" font-size="8.9" fill="#444" text-anchor="middle" transform="translate(12.7,569.0) rotate(-90)">Transmittance [%]</text>
<line x1="93.1" y1="768.3" x2="93.1" y2="772.1" stroke="#7a7a7a" stroke-width="1"/>
<text class="t" font-size="9.3" fill="#444" stroke="#444" stroke-width="0.12" text-anchor="middle" transform="translate(93.1,784.2) scale(0.89,1)">3500</text>
<line x1="148.2" y1="768.3" x2="148.2" y2="772.1" stroke="#7a7a7a" stroke-width="1"/>
<text class="t" font-size="9.3" fill="#444" stroke="#444" stroke-width="0.12" text-anchor="middle" transform="translate(148.2,784.2) scale(0.89,1)">3000</text>
<line x1="203.8" y1="768.3" x2="203.8" y2="772.1" stroke="#7a7a7a" stroke-width="1"/>
<text class="t" font-size="9.3" fill="#444" stroke="#444" stroke-width="0.12" text-anchor="middle" transform="translate(203.8,784.2) scale(0.89,1)">2500</text>
<line x1="259.3" y1="768.3" x2="259.3" y2="772.1" stroke="#7a7a7a" stroke-width="1"/>
<text class="t" font-size="9.3" fill="#444" stroke="#444" stroke-width="0.12" text-anchor="middle" transform="translate(259.3,784.2) scale(0.89,1)">2000</text>
<line x1="370.8" y1="768.3" x2="370.8" y2="772.1" stroke="#7a7a7a" stroke-width="1"/>
<text class="t" font-size="9.3" fill="#444" stroke="#444" stroke-width="0.12" text-anchor="middle" transform="translate(370.8,784.2) scale(0.89,1)">1500</text>
<line x1="482.3" y1="768.3" x2="482.3" y2="772.1" stroke="#7a7a7a" stroke-width="1"/>
<text class="t" font-size="9.3" fill="#444" stroke="#444" stroke-width="0.12" text-anchor="middle" transform="translate(482.3,784.2) scale(0.89,1)">1000</text>
<line x1="592.5" y1="768.3" x2="592.5" y2="772.1" stroke="#7a7a7a" stroke-width="1"/>
<text class="t" font-size="9.3" fill="#444" stroke="#444" stroke-width="0.12" text-anchor="middle" transform="translate(592.5,784.2) scale(0.89,1)">500</text>
<text class="t" x="326.5" y="798.0" font-size="8.5" fill="#444" text-anchor="middle">Wavenumber cm-1</text>
<line x1="67.0" y1="717.2" x2="67.0" y2="737.9" stroke="#94d094" stroke-width="0.9"/>
<text class="t" font-size="6.65" fill="#3fc23f" stroke="#3fc23f" stroke-width="0.15" transform="translate(69.9,764.5) rotate(-90)">3727.77</text>
<line x1="78.2" y1="717.2" x2="78.2" y2="737.9" stroke="#94d094" stroke-width="0.9"/>
<text class="t" font-size="6.65" fill="#3fc23f" stroke="#3fc23f" stroke-width="0.15" transform="translate(81.1,764.5) rotate(-90)">3626.50</text>
<line x1="110.6" y1="717.2" x2="110.6" y2="737.9" stroke="#a858c0" stroke-width="0.9"/>
<text class="t" font-size="6.65" fill="#d0207a" stroke="#d0207a" stroke-width="0.15" transform="translate(113.5,764.5) rotate(-90)">3333.03</text>
<text class="t" font-size="6.65" fill="#c030c0" stroke="#c030c0" stroke-width="0.15" transform="translate(113.9,764.5) rotate(-90)">3333.03</text>
<line x1="112.9" y1="717.2" x2="112.9" y2="737.9" stroke="#efd8ec" stroke-width="0.9"/>
<line x1="154.4" y1="717.2" x2="154.4" y2="737.9" stroke="#a858c0" stroke-width="0.9"/>
<text class="t" font-size="6.65" fill="#9a1a9a" stroke="#9a1a9a" stroke-width="0.15" transform="translate(157.6,764.5) rotate(-90)">2920.86</text>
<text class="t" font-size="6.65" fill="#9a1a9a" stroke="#9a1a9a" stroke-width="0.15" transform="translate(157.3,764.5) rotate(-90)">2920.86</text>
<line x1="218.7" y1="717.2" x2="218.7" y2="737.9" stroke="#94d094" stroke-width="0.9"/>
<text class="t" font-size="6.65" fill="#3fc23f" stroke="#3fc23f" stroke-width="0.15" transform="translate(221.6,764.5) rotate(-90)">2360.91</text>
<line x1="318.0" y1="717.2" x2="318.0" y2="737.9" stroke="#a858c0" stroke-width="0.9"/>
<text class="t" font-size="6.65" fill="#d0207a" stroke="#d0207a" stroke-width="0.15" transform="translate(321.2,764.5) rotate(-90)">1738.84</text>
<text class="t" font-size="6.65" fill="#c030c0" stroke="#c030c0" stroke-width="0.15" transform="translate(320.9,764.5) rotate(-90)">1738.84</text>
<line x1="346.4" y1="717.2" x2="346.4" y2="737.9" stroke="#505078" stroke-width="0.9"/>
<text class="t" font-size="6.65" fill="#333333" stroke="#333333" stroke-width="0.15" transform="translate(349.3,764.5) rotate(-90)">1606.45</text>
<line x1="367.9" y1="717.2" x2="367.9" y2="737.9" stroke="#505078" stroke-width="0.9"/>
<text class="t" font-size="6.65" fill="#333333" stroke="#333333" stroke-width="0.15" transform="translate(370.8,764.5) rotate(-90)">1511.44</text>
<line x1="386.0" y1="717.2" x2="386.0" y2="737.9" stroke="#505078" stroke-width="0.9"/>
<text class="t" font-size="6.65" fill="#c42040" stroke="#c42040" stroke-width="0.15" transform="translate(388.9,764.5) rotate(-90)">1436.76</text>
<text class="t" font-size="6.65" fill="#333333" stroke="#333333" stroke-width="0.15" transform="translate(389.2,764.5) rotate(-90)">1436.76</text>
<line x1="400.5" y1="717.2" x2="400.5" y2="737.9" stroke="#505078" stroke-width="0.9"/>
<text class="t" font-size="6.65" fill="#333333" stroke="#333333" stroke-width="0.15" transform="translate(403.4,764.5) rotate(-90)">1366.43</text>
<line x1="423.0" y1="717.2" x2="423.0" y2="737.9" stroke="#505078" stroke-width="0.9"/>
<text class="t" font-size="6.65" fill="#333333" stroke="#333333" stroke-width="0.15" transform="translate(425.9,764.5) rotate(-90)">1265.60</text>
<text class="t" font-size="6.65" fill="#c030c0" stroke="#c030c0" stroke-width="0.15" transform="translate(426.2,764.5) rotate(-90)">1265.60</text>
<line x1="424.9" y1="717.2" x2="424.9" y2="737.9" stroke="#e0a8c0" stroke-width="0.9"/>
<text class="t" font-size="6.65" fill="#c030c0" stroke="#c030c0" stroke-width="0.15" transform="translate(427.8,764.5) rotate(-90)">1249.80</text>
<line x1="430.2" y1="717.2" x2="430.2" y2="737.9" stroke="#7c7cb0" stroke-width="0.9"/>
<text class="t" font-size="6.65" fill="#333333" stroke="#333333" stroke-width="0.15" transform="translate(433.1,764.5) rotate(-90)">1231.63</text>
<line x1="448.4" y1="717.2" x2="448.4" y2="737.9" stroke="#94d094" stroke-width="0.9"/>
<text class="t" font-size="6.65" fill="#3fc23f" stroke="#3fc23f" stroke-width="0.15" transform="translate(451.3,764.5) rotate(-90)">1149.91</text>
<line x1="449.2" y1="717.2" x2="449.2" y2="737.9" stroke="#7c7cb0" stroke-width="0.9"/>
<line x1="455.5" y1="717.2" x2="455.5" y2="737.9" stroke="#7c7cb0" stroke-width="0.9"/>
<text class="t" font-size="6.65" fill="#333333" stroke="#333333" stroke-width="0.15" transform="translate(458.4,764.5) rotate(-90)">1121.30</text>
<line x1="460.9" y1="717.2" x2="460.9" y2="737.9" stroke="#a858c0" stroke-width="0.9"/>
<text class="t" font-size="6.65" fill="#c030c0" stroke="#c030c0" stroke-width="0.15" transform="translate(463.8,764.5) rotate(-90)">1093.60</text>
<line x1="462.8" y1="717.2" x2="462.8" y2="737.9" stroke="#e0a8c0" stroke-width="0.9"/>
<text class="t" font-size="6.65" fill="#c42040" stroke="#c42040" stroke-width="0.15" transform="translate(465.7,764.5) rotate(-90)">1087.70</text>
<line x1="474.6" y1="717.2" x2="474.6" y2="737.9" stroke="#9a4a66" stroke-width="0.9"/>
<text class="t" font-size="6.65" fill="#8a9a30" stroke="#8a9a30" stroke-width="0.15" transform="translate(477.5,764.5) rotate(-90)">1030.45</text>
<text class="t" font-size="6.65" fill="#3fc23f" stroke="#3fc23f" stroke-width="0.15" transform="translate(477.8,764.5) rotate(-90)">1030.45</text>
<line x1="482.9" y1="717.2" x2="482.9" y2="737.9" stroke="#7c7cb0" stroke-width="0.9"/>
<text class="t" font-size="6.65" fill="#333333" stroke="#333333" stroke-width="0.15" transform="translate(485.8,764.5) rotate(-90)">994.20</text>
<line x1="501.0" y1="717.2" x2="501.0" y2="737.9" stroke="#7c7cb0" stroke-width="0.9"/>
<text class="t" font-size="6.65" fill="#333333" stroke="#333333" stroke-width="0.15" transform="translate(503.9,764.5) rotate(-90)">911.60</text>
<line x1="515.2" y1="717.2" x2="515.2" y2="737.9" stroke="#7c7cb0" stroke-width="0.9"/>
<text class="t" font-size="6.65" fill="#333333" stroke="#333333" stroke-width="0.15" transform="translate(518.1,764.5) rotate(-90)">849.98</text>
<line x1="522.3" y1="717.2" x2="522.3" y2="737.9" stroke="#7c7cb0" stroke-width="0.9"/>
<text class="t" font-size="6.65" fill="#333333" stroke="#333333" stroke-width="0.15" transform="translate(525.2,764.5) rotate(-90)">816.63</text>
<path d="M527.4,717.2 L527.6,722.4 C527.8,726.5 529.6,727.5 529.6,730.7 L529.6,737.9" fill="none" stroke="#7c7cb0" stroke-width="0.9"/>
<text class="t" font-size="6.65" fill="#333333" stroke="#333333" stroke-width="0.15" transform="translate(531.4,764.5) rotate(-90)">793.72</text>
<line x1="538.2" y1="717.2" x2="538.2" y2="737.9" stroke="#7c7cb0" stroke-width="0.9"/>
<text class="t" font-size="6.65" fill="#333333" stroke="#333333" stroke-width="0.15" transform="translate(541.1,764.5) rotate(-90)">745.65</text>
<line x1="547.2" y1="717.2" x2="547.2" y2="737.9" stroke="#94d094" stroke-width="0.9"/>
<text class="t" font-size="6.65" fill="#3fc23f" stroke="#3fc23f" stroke-width="0.15" transform="translate(550.1,764.5) rotate(-90)">703.88</text>
<line x1="568.8" y1="717.2" x2="568.8" y2="737.9" stroke="#a858c0" stroke-width="0.9"/>
<text class="t" font-size="6.65" fill="#d0207a" stroke="#d0207a" stroke-width="0.15" transform="translate(572.0,764.5) rotate(-90)">606.61</text>
<text class="t" font-size="6.65" fill="#c030c0" stroke="#c030c0" stroke-width="0.15" transform="translate(571.7,764.5) rotate(-90)">606.61</text>
<line x1="575.5" y1="717.2" x2="575.5" y2="737.9" stroke="#94d094" stroke-width="0.9"/>
<text class="t" font-size="6.65" fill="#3fc23f" stroke="#3fc23f" stroke-width="0.15" transform="translate(578.4,764.5) rotate(-90)">576.74</text>
<line x1="580.3" y1="717.2" x2="580.3" y2="737.9" stroke="#7c7cb0" stroke-width="0.9"/>
<text class="t" font-size="6.65" fill="#333333" stroke="#333333" stroke-width="0.15" transform="translate(583.2,764.5) rotate(-90)">556.31</text>
<line x1="510.7" y1="425.6" x2="528.6" y2="425.6" stroke="#e0a8a8" stroke-width="0.9"/>
<text class="s" font-size="7.4" fill="#111" transform="translate(531.4,428.0) scale(0.91,1)">CEO nanofiber</text>
<line x1="510.7" y1="433.2" x2="528.6" y2="433.2" stroke="#8c8cc8" stroke-width="0.9"/>
<text class="s" font-size="7.4" fill="#111" transform="translate(531.4,436.2) scale(0.91,1)">CEO</text>
<line x1="510.7" y1="440.9" x2="528.6" y2="440.9" stroke="#a070d0" stroke-width="0.9"/>
<text class="s" font-size="7.4" fill="#111" transform="translate(531.4,443.9) scale(0.91,1)">PVA</text>
<line x1="510.7" y1="448.6" x2="528.6" y2="448.6" stroke="#c0ecc0" stroke-width="0.9"/>
<text class="s" font-size="7.4" fill="#111" transform="translate(531.4,451.6) scale(0.91,1)">β-CD</text>
<text class="s" font-size="28" fill="#000" stroke="#000" stroke-width="0.35" transform="translate(596.9,443.5) scale(0.9,1)">b</text>
</svg></body></html>
